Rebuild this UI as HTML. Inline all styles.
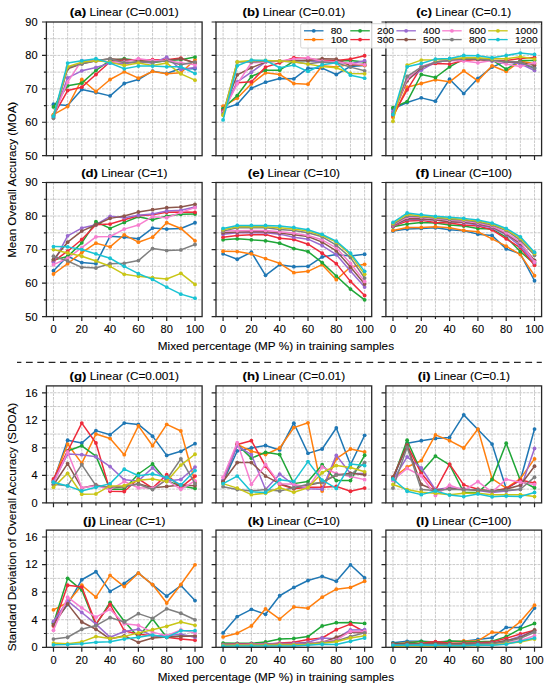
<!DOCTYPE html><html><head><meta charset="utf-8"><style>html,body{margin:0;padding:0;background:#fff;width:550px;height:688px;overflow:hidden}text{stroke:#000;stroke-width:0.1px}</style></head><body><svg width="550" height="688" viewBox="0 0 550 688" style="display:block;font-family:'Liberation Sans', sans-serif">
<rect width="550" height="688" fill="#fff"/>
<path d="M53.48 22.00V155.70M67.63 22.00V155.70M81.79 22.00V155.70M95.94 22.00V155.70M110.10 22.00V155.70M124.25 22.00V155.70M138.40 22.00V155.70M152.56 22.00V155.70M166.71 22.00V155.70M180.87 22.00V155.70M195.02 22.00V155.70M46.40 138.99H202.10M46.40 122.27H202.10M46.40 105.56H202.10M46.40 88.85H202.10M46.40 72.14H202.10M46.40 55.42H202.10M46.40 38.71H202.10" stroke="#bdbdbd" stroke-opacity="1" stroke-width="0.8" stroke-dasharray="2.7 1.0" fill="none"/>
<path d="M53.48 104.23 L67.63 105.56 L81.79 89.52 L95.94 92.53 L110.10 95.87 L124.25 83.50 L138.40 79.49 L152.56 71.13 L166.71 73.47 L180.87 68.46 L195.02 68.79" stroke="#1f77b4" stroke-width="1.5" fill="none" stroke-linejoin="round"/>
<g fill="#1f77b4"><circle cx="53.48" cy="104.23" r="1.9"/><circle cx="67.63" cy="105.56" r="1.9"/><circle cx="81.79" cy="89.52" r="1.9"/><circle cx="95.94" cy="92.53" r="1.9"/><circle cx="110.10" cy="95.87" r="1.9"/><circle cx="124.25" cy="83.50" r="1.9"/><circle cx="138.40" cy="79.49" r="1.9"/><circle cx="152.56" cy="71.13" r="1.9"/><circle cx="166.71" cy="73.47" r="1.9"/><circle cx="180.87" cy="68.46" r="1.9"/><circle cx="195.02" cy="68.79" r="1.9"/></g>
<path d="M53.48 114.59 L67.63 106.57 L81.79 79.49 L95.94 91.52 L110.10 79.49 L124.25 71.80 L138.40 78.15 L152.56 71.47 L166.71 73.81 L180.87 72.81 L195.02 59.77" stroke="#ff7f0e" stroke-width="1.5" fill="none" stroke-linejoin="round"/>
<g fill="#ff7f0e"><circle cx="53.48" cy="114.59" r="1.9"/><circle cx="67.63" cy="106.57" r="1.9"/><circle cx="81.79" cy="79.49" r="1.9"/><circle cx="95.94" cy="91.52" r="1.9"/><circle cx="110.10" cy="79.49" r="1.9"/><circle cx="124.25" cy="71.80" r="1.9"/><circle cx="138.40" cy="78.15" r="1.9"/><circle cx="152.56" cy="71.47" r="1.9"/><circle cx="166.71" cy="73.81" r="1.9"/><circle cx="180.87" cy="72.81" r="1.9"/><circle cx="195.02" cy="59.77" r="1.9"/></g>
<path d="M53.48 106.90 L67.63 85.84 L81.79 83.17 L95.94 70.47 L110.10 60.44 L124.25 58.77 L138.40 60.44 L152.56 62.78 L166.71 60.44 L180.87 59.77 L195.02 57.10" stroke="#1fa637" stroke-width="1.5" fill="none" stroke-linejoin="round"/>
<g fill="#1fa637"><circle cx="53.48" cy="106.90" r="1.9"/><circle cx="67.63" cy="85.84" r="1.9"/><circle cx="81.79" cy="83.17" r="1.9"/><circle cx="95.94" cy="70.47" r="1.9"/><circle cx="110.10" cy="60.44" r="1.9"/><circle cx="124.25" cy="58.77" r="1.9"/><circle cx="138.40" cy="60.44" r="1.9"/><circle cx="152.56" cy="62.78" r="1.9"/><circle cx="166.71" cy="60.44" r="1.9"/><circle cx="180.87" cy="59.77" r="1.9"/><circle cx="195.02" cy="57.10" r="1.9"/></g>
<path d="M53.48 115.59 L67.63 90.52 L81.79 87.18 L95.94 74.48 L110.10 61.78 L124.25 59.77 L138.40 59.77 L152.56 59.77 L166.71 59.77 L180.87 58.10 L195.02 63.11" stroke="#ee2a3a" stroke-width="1.5" fill="none" stroke-linejoin="round"/>
<g fill="#ee2a3a"><circle cx="53.48" cy="115.59" r="1.9"/><circle cx="67.63" cy="90.52" r="1.9"/><circle cx="81.79" cy="87.18" r="1.9"/><circle cx="95.94" cy="74.48" r="1.9"/><circle cx="110.10" cy="61.78" r="1.9"/><circle cx="124.25" cy="59.77" r="1.9"/><circle cx="138.40" cy="59.77" r="1.9"/><circle cx="152.56" cy="59.77" r="1.9"/><circle cx="166.71" cy="59.77" r="1.9"/><circle cx="180.87" cy="58.10" r="1.9"/><circle cx="195.02" cy="63.11" r="1.9"/></g>
<path d="M53.48 117.26 L67.63 77.82 L81.79 70.80 L95.94 67.46 L110.10 63.11 L124.25 63.78 L138.40 61.78 L152.56 63.11 L166.71 57.10 L180.87 69.46 L195.02 67.46" stroke="#9a6ad0" stroke-width="1.5" fill="none" stroke-linejoin="round"/>
<g fill="#9a6ad0"><circle cx="53.48" cy="117.26" r="1.9"/><circle cx="67.63" cy="77.82" r="1.9"/><circle cx="81.79" cy="70.80" r="1.9"/><circle cx="95.94" cy="67.46" r="1.9"/><circle cx="110.10" cy="63.11" r="1.9"/><circle cx="124.25" cy="63.78" r="1.9"/><circle cx="138.40" cy="61.78" r="1.9"/><circle cx="152.56" cy="63.11" r="1.9"/><circle cx="166.71" cy="57.10" r="1.9"/><circle cx="180.87" cy="69.46" r="1.9"/><circle cx="195.02" cy="67.46" r="1.9"/></g>
<path d="M53.48 115.59 L67.63 68.79 L81.79 63.78 L95.94 60.77 L110.10 58.77 L124.25 59.77 L138.40 61.11 L152.56 61.11 L166.71 60.44 L180.87 58.77 L195.02 62.78" stroke="#8c564b" stroke-width="1.5" fill="none" stroke-linejoin="round"/>
<g fill="#8c564b"><circle cx="53.48" cy="115.59" r="1.9"/><circle cx="67.63" cy="68.79" r="1.9"/><circle cx="81.79" cy="63.78" r="1.9"/><circle cx="95.94" cy="60.77" r="1.9"/><circle cx="110.10" cy="58.77" r="1.9"/><circle cx="124.25" cy="59.77" r="1.9"/><circle cx="138.40" cy="61.11" r="1.9"/><circle cx="152.56" cy="61.11" r="1.9"/><circle cx="166.71" cy="60.44" r="1.9"/><circle cx="180.87" cy="58.77" r="1.9"/><circle cx="195.02" cy="62.78" r="1.9"/></g>
<path d="M53.48 115.59 L67.63 82.16 L81.79 60.44 L95.94 60.44 L110.10 61.78 L124.25 62.11 L138.40 58.77 L152.56 60.44 L166.71 60.44 L180.87 62.78 L195.02 64.78" stroke="#f77fcf" stroke-width="1.5" fill="none" stroke-linejoin="round"/>
<g fill="#f77fcf"><circle cx="53.48" cy="115.59" r="1.9"/><circle cx="67.63" cy="82.16" r="1.9"/><circle cx="81.79" cy="60.44" r="1.9"/><circle cx="95.94" cy="60.44" r="1.9"/><circle cx="110.10" cy="61.78" r="1.9"/><circle cx="124.25" cy="62.11" r="1.9"/><circle cx="138.40" cy="58.77" r="1.9"/><circle cx="152.56" cy="60.44" r="1.9"/><circle cx="166.71" cy="60.44" r="1.9"/><circle cx="180.87" cy="62.78" r="1.9"/><circle cx="195.02" cy="64.78" r="1.9"/></g>
<path d="M53.48 118.26 L67.63 67.46 L81.79 63.78 L95.94 60.77 L110.10 58.77 L124.25 62.78 L138.40 62.11 L152.56 62.11 L166.71 61.11 L180.87 64.78 L195.02 62.11" stroke="#7f7f7f" stroke-width="1.5" fill="none" stroke-linejoin="round"/>
<g fill="#7f7f7f"><circle cx="53.48" cy="118.26" r="1.9"/><circle cx="67.63" cy="67.46" r="1.9"/><circle cx="81.79" cy="63.78" r="1.9"/><circle cx="95.94" cy="60.77" r="1.9"/><circle cx="110.10" cy="58.77" r="1.9"/><circle cx="124.25" cy="62.78" r="1.9"/><circle cx="138.40" cy="62.11" r="1.9"/><circle cx="152.56" cy="62.11" r="1.9"/><circle cx="166.71" cy="61.11" r="1.9"/><circle cx="180.87" cy="64.78" r="1.9"/><circle cx="195.02" cy="62.11" r="1.9"/></g>
<path d="M53.48 115.59 L67.63 66.79 L81.79 62.11 L95.94 60.77 L110.10 62.11 L124.25 65.45 L138.40 63.11 L152.56 65.45 L166.71 63.11 L180.87 73.81 L195.02 80.16" stroke="#c9c617" stroke-width="1.5" fill="none" stroke-linejoin="round"/>
<g fill="#c9c617"><circle cx="53.48" cy="115.59" r="1.9"/><circle cx="67.63" cy="66.79" r="1.9"/><circle cx="81.79" cy="62.11" r="1.9"/><circle cx="95.94" cy="60.77" r="1.9"/><circle cx="110.10" cy="62.11" r="1.9"/><circle cx="124.25" cy="65.45" r="1.9"/><circle cx="138.40" cy="63.11" r="1.9"/><circle cx="152.56" cy="65.45" r="1.9"/><circle cx="166.71" cy="63.11" r="1.9"/><circle cx="180.87" cy="73.81" r="1.9"/><circle cx="195.02" cy="80.16" r="1.9"/></g>
<path d="M53.48 116.26 L67.63 63.11 L81.79 60.77 L95.94 58.77 L110.10 63.11 L124.25 68.79 L138.40 66.12 L152.56 66.12 L166.71 66.79 L180.87 66.79 L195.02 73.47" stroke="#19c3d3" stroke-width="1.5" fill="none" stroke-linejoin="round"/>
<g fill="#19c3d3"><circle cx="53.48" cy="116.26" r="1.9"/><circle cx="67.63" cy="63.11" r="1.9"/><circle cx="81.79" cy="60.77" r="1.9"/><circle cx="95.94" cy="58.77" r="1.9"/><circle cx="110.10" cy="63.11" r="1.9"/><circle cx="124.25" cy="68.79" r="1.9"/><circle cx="138.40" cy="66.12" r="1.9"/><circle cx="152.56" cy="66.12" r="1.9"/><circle cx="166.71" cy="66.79" r="1.9"/><circle cx="180.87" cy="66.79" r="1.9"/><circle cx="195.02" cy="73.47" r="1.9"/></g>
<rect x="46.40" y="22.00" width="155.70" height="133.70" fill="none" stroke="#262626" stroke-width="1.3"/>
<path d="M223.08 22.00V155.70M237.23 22.00V155.70M251.39 22.00V155.70M265.54 22.00V155.70M279.70 22.00V155.70M293.85 22.00V155.70M308.00 22.00V155.70M322.16 22.00V155.70M336.31 22.00V155.70M350.47 22.00V155.70M364.62 22.00V155.70M216.00 138.99H371.70M216.00 122.27H371.70M216.00 105.56H371.70M216.00 88.85H371.70M216.00 72.14H371.70M216.00 55.42H371.70M216.00 38.71H371.70" stroke="#bdbdbd" stroke-opacity="1" stroke-width="0.8" stroke-dasharray="2.7 1.0" fill="none"/>
<path d="M223.08 108.91 L237.23 104.23 L251.39 88.18 L265.54 82.16 L279.70 78.49 L293.85 78.82 L308.00 68.13 L322.16 68.13 L336.31 74.48 L350.47 66.46 L364.62 65.45" stroke="#1f77b4" stroke-width="1.5" fill="none" stroke-linejoin="round"/>
<g fill="#1f77b4"><circle cx="223.08" cy="108.91" r="1.9"/><circle cx="237.23" cy="104.23" r="1.9"/><circle cx="251.39" cy="88.18" r="1.9"/><circle cx="265.54" cy="82.16" r="1.9"/><circle cx="279.70" cy="78.49" r="1.9"/><circle cx="293.85" cy="78.82" r="1.9"/><circle cx="308.00" cy="68.13" r="1.9"/><circle cx="322.16" cy="68.13" r="1.9"/><circle cx="336.31" cy="74.48" r="1.9"/><circle cx="350.47" cy="66.46" r="1.9"/><circle cx="364.62" cy="65.45" r="1.9"/></g>
<path d="M223.08 106.23 L237.23 98.21 L251.39 83.84 L265.54 72.81 L279.70 74.48 L293.85 83.50 L308.00 84.17 L322.16 65.79 L336.31 67.12 L350.47 64.12 L364.62 65.45" stroke="#ff7f0e" stroke-width="1.5" fill="none" stroke-linejoin="round"/>
<g fill="#ff7f0e"><circle cx="223.08" cy="106.23" r="1.9"/><circle cx="237.23" cy="98.21" r="1.9"/><circle cx="251.39" cy="83.84" r="1.9"/><circle cx="265.54" cy="72.81" r="1.9"/><circle cx="279.70" cy="74.48" r="1.9"/><circle cx="293.85" cy="83.50" r="1.9"/><circle cx="308.00" cy="84.17" r="1.9"/><circle cx="322.16" cy="65.79" r="1.9"/><circle cx="336.31" cy="67.12" r="1.9"/><circle cx="350.47" cy="64.12" r="1.9"/><circle cx="364.62" cy="65.45" r="1.9"/></g>
<path d="M223.08 108.57 L237.23 95.53 L251.39 76.48 L265.54 70.13 L279.70 70.13 L293.85 61.11 L308.00 60.44 L322.16 62.11 L336.31 61.11 L350.47 60.44 L364.62 62.11" stroke="#1fa637" stroke-width="1.5" fill="none" stroke-linejoin="round"/>
<g fill="#1fa637"><circle cx="223.08" cy="108.57" r="1.9"/><circle cx="237.23" cy="95.53" r="1.9"/><circle cx="251.39" cy="76.48" r="1.9"/><circle cx="265.54" cy="70.13" r="1.9"/><circle cx="279.70" cy="70.13" r="1.9"/><circle cx="293.85" cy="61.11" r="1.9"/><circle cx="308.00" cy="60.44" r="1.9"/><circle cx="322.16" cy="62.11" r="1.9"/><circle cx="336.31" cy="61.11" r="1.9"/><circle cx="350.47" cy="60.44" r="1.9"/><circle cx="364.62" cy="62.11" r="1.9"/></g>
<path d="M223.08 110.58 L237.23 82.83 L251.39 81.83 L265.54 67.12 L279.70 62.78 L293.85 57.76 L308.00 58.43 L322.16 60.44 L336.31 60.44 L350.47 59.10 L364.62 55.76" stroke="#ee2a3a" stroke-width="1.5" fill="none" stroke-linejoin="round"/>
<g fill="#ee2a3a"><circle cx="223.08" cy="110.58" r="1.9"/><circle cx="237.23" cy="82.83" r="1.9"/><circle cx="251.39" cy="81.83" r="1.9"/><circle cx="265.54" cy="67.12" r="1.9"/><circle cx="279.70" cy="62.78" r="1.9"/><circle cx="293.85" cy="57.76" r="1.9"/><circle cx="308.00" cy="58.43" r="1.9"/><circle cx="322.16" cy="60.44" r="1.9"/><circle cx="336.31" cy="60.44" r="1.9"/><circle cx="350.47" cy="59.10" r="1.9"/><circle cx="364.62" cy="55.76" r="1.9"/></g>
<path d="M223.08 111.58 L237.23 81.83 L251.39 72.14 L265.54 62.11 L279.70 61.11 L293.85 60.44 L308.00 60.44 L322.16 62.11 L336.31 62.11 L350.47 63.78 L364.62 60.77" stroke="#9a6ad0" stroke-width="1.5" fill="none" stroke-linejoin="round"/>
<g fill="#9a6ad0"><circle cx="223.08" cy="111.58" r="1.9"/><circle cx="237.23" cy="81.83" r="1.9"/><circle cx="251.39" cy="72.14" r="1.9"/><circle cx="265.54" cy="62.11" r="1.9"/><circle cx="279.70" cy="61.11" r="1.9"/><circle cx="293.85" cy="60.44" r="1.9"/><circle cx="308.00" cy="60.44" r="1.9"/><circle cx="322.16" cy="62.11" r="1.9"/><circle cx="336.31" cy="62.11" r="1.9"/><circle cx="350.47" cy="63.78" r="1.9"/><circle cx="364.62" cy="60.77" r="1.9"/></g>
<path d="M223.08 111.58 L237.23 74.81 L251.39 67.79 L265.54 62.11 L279.70 61.11 L293.85 60.44 L308.00 60.44 L322.16 58.77 L336.31 59.10 L350.47 65.45 L364.62 64.12" stroke="#8c564b" stroke-width="1.5" fill="none" stroke-linejoin="round"/>
<g fill="#8c564b"><circle cx="223.08" cy="111.58" r="1.9"/><circle cx="237.23" cy="74.81" r="1.9"/><circle cx="251.39" cy="67.79" r="1.9"/><circle cx="265.54" cy="62.11" r="1.9"/><circle cx="279.70" cy="61.11" r="1.9"/><circle cx="293.85" cy="60.44" r="1.9"/><circle cx="308.00" cy="60.44" r="1.9"/><circle cx="322.16" cy="58.77" r="1.9"/><circle cx="336.31" cy="59.10" r="1.9"/><circle cx="350.47" cy="65.45" r="1.9"/><circle cx="364.62" cy="64.12" r="1.9"/></g>
<path d="M223.08 112.25 L237.23 83.84 L251.39 62.78 L265.54 62.11 L279.70 61.11 L293.85 59.10 L308.00 57.76 L322.16 61.11 L336.31 62.11 L350.47 63.45 L364.62 64.78" stroke="#f77fcf" stroke-width="1.5" fill="none" stroke-linejoin="round"/>
<g fill="#f77fcf"><circle cx="223.08" cy="112.25" r="1.9"/><circle cx="237.23" cy="83.84" r="1.9"/><circle cx="251.39" cy="62.78" r="1.9"/><circle cx="265.54" cy="62.11" r="1.9"/><circle cx="279.70" cy="61.11" r="1.9"/><circle cx="293.85" cy="59.10" r="1.9"/><circle cx="308.00" cy="57.76" r="1.9"/><circle cx="322.16" cy="61.11" r="1.9"/><circle cx="336.31" cy="62.11" r="1.9"/><circle cx="350.47" cy="63.45" r="1.9"/><circle cx="364.62" cy="64.78" r="1.9"/></g>
<path d="M223.08 113.92 L237.23 62.11 L251.39 62.11 L265.54 61.11 L279.70 61.11 L293.85 62.11 L308.00 63.78 L322.16 62.11 L336.31 62.78 L350.47 67.12 L364.62 70.80" stroke="#7f7f7f" stroke-width="1.5" fill="none" stroke-linejoin="round"/>
<g fill="#7f7f7f"><circle cx="223.08" cy="113.92" r="1.9"/><circle cx="237.23" cy="62.11" r="1.9"/><circle cx="251.39" cy="62.11" r="1.9"/><circle cx="265.54" cy="61.11" r="1.9"/><circle cx="279.70" cy="61.11" r="1.9"/><circle cx="293.85" cy="62.11" r="1.9"/><circle cx="308.00" cy="63.78" r="1.9"/><circle cx="322.16" cy="62.11" r="1.9"/><circle cx="336.31" cy="62.78" r="1.9"/><circle cx="350.47" cy="67.12" r="1.9"/><circle cx="364.62" cy="70.80" r="1.9"/></g>
<path d="M223.08 115.26 L237.23 61.78 L251.39 60.44 L265.54 60.44 L279.70 61.11 L293.85 61.78 L308.00 64.12 L322.16 66.46 L336.31 67.79 L350.47 73.47 L364.62 73.81" stroke="#c9c617" stroke-width="1.5" fill="none" stroke-linejoin="round"/>
<g fill="#c9c617"><circle cx="223.08" cy="115.26" r="1.9"/><circle cx="237.23" cy="61.78" r="1.9"/><circle cx="251.39" cy="60.44" r="1.9"/><circle cx="265.54" cy="60.44" r="1.9"/><circle cx="279.70" cy="61.11" r="1.9"/><circle cx="293.85" cy="61.78" r="1.9"/><circle cx="308.00" cy="64.12" r="1.9"/><circle cx="322.16" cy="66.46" r="1.9"/><circle cx="336.31" cy="67.79" r="1.9"/><circle cx="350.47" cy="73.47" r="1.9"/><circle cx="364.62" cy="73.81" r="1.9"/></g>
<path d="M223.08 119.94 L237.23 65.79 L251.39 60.10 L265.54 60.44 L279.70 67.79 L293.85 65.12 L308.00 71.47 L322.16 64.78 L336.31 62.78 L350.47 75.15 L364.62 78.15" stroke="#19c3d3" stroke-width="1.5" fill="none" stroke-linejoin="round"/>
<g fill="#19c3d3"><circle cx="223.08" cy="119.94" r="1.9"/><circle cx="237.23" cy="65.79" r="1.9"/><circle cx="251.39" cy="60.10" r="1.9"/><circle cx="265.54" cy="60.44" r="1.9"/><circle cx="279.70" cy="67.79" r="1.9"/><circle cx="293.85" cy="65.12" r="1.9"/><circle cx="308.00" cy="71.47" r="1.9"/><circle cx="322.16" cy="64.78" r="1.9"/><circle cx="336.31" cy="62.78" r="1.9"/><circle cx="350.47" cy="75.15" r="1.9"/><circle cx="364.62" cy="78.15" r="1.9"/></g>
<rect x="216.00" y="22.00" width="155.70" height="133.70" fill="none" stroke="#262626" stroke-width="1.3"/>
<path d="M392.98 22.00V155.70M407.13 22.00V155.70M421.29 22.00V155.70M435.44 22.00V155.70M449.60 22.00V155.70M463.75 22.00V155.70M477.90 22.00V155.70M492.06 22.00V155.70M506.21 22.00V155.70M520.37 22.00V155.70M534.52 22.00V155.70M385.90 138.99H541.60M385.90 122.27H541.60M385.90 105.56H541.60M385.90 88.85H541.60M385.90 72.14H541.60M385.90 55.42H541.60M385.90 38.71H541.60" stroke="#bdbdbd" stroke-opacity="1" stroke-width="0.8" stroke-dasharray="2.7 1.0" fill="none"/>
<path d="M392.98 108.91 L407.13 102.55 L421.29 97.87 L435.44 101.22 L449.60 79.16 L463.75 93.53 L477.90 78.49 L492.06 67.12 L506.21 61.11 L520.37 63.78 L534.52 67.79" stroke="#1f77b4" stroke-width="1.5" fill="none" stroke-linejoin="round"/>
<g fill="#1f77b4"><circle cx="392.98" cy="108.91" r="1.9"/><circle cx="407.13" cy="102.55" r="1.9"/><circle cx="421.29" cy="97.87" r="1.9"/><circle cx="435.44" cy="101.22" r="1.9"/><circle cx="449.60" cy="79.16" r="1.9"/><circle cx="463.75" cy="93.53" r="1.9"/><circle cx="477.90" cy="78.49" r="1.9"/><circle cx="492.06" cy="67.12" r="1.9"/><circle cx="506.21" cy="61.11" r="1.9"/><circle cx="520.37" cy="63.78" r="1.9"/><circle cx="534.52" cy="67.79" r="1.9"/></g>
<path d="M392.98 117.26 L407.13 87.18 L421.29 83.50 L435.44 79.83 L449.60 81.83 L463.75 70.80 L477.90 80.83 L492.06 65.79 L506.21 71.47 L520.37 61.11 L534.52 63.78" stroke="#ff7f0e" stroke-width="1.5" fill="none" stroke-linejoin="round"/>
<g fill="#ff7f0e"><circle cx="392.98" cy="117.26" r="1.9"/><circle cx="407.13" cy="87.18" r="1.9"/><circle cx="421.29" cy="83.50" r="1.9"/><circle cx="435.44" cy="79.83" r="1.9"/><circle cx="449.60" cy="81.83" r="1.9"/><circle cx="463.75" cy="70.80" r="1.9"/><circle cx="477.90" cy="80.83" r="1.9"/><circle cx="492.06" cy="65.79" r="1.9"/><circle cx="506.21" cy="71.47" r="1.9"/><circle cx="520.37" cy="61.11" r="1.9"/><circle cx="534.52" cy="63.78" r="1.9"/></g>
<path d="M392.98 107.57 L407.13 101.55 L421.29 74.48 L435.44 77.49 L449.60 66.79 L463.75 58.77 L477.90 58.77 L492.06 59.77 L506.21 69.13 L520.37 60.44 L534.52 60.44" stroke="#1fa637" stroke-width="1.5" fill="none" stroke-linejoin="round"/>
<g fill="#1fa637"><circle cx="392.98" cy="107.57" r="1.9"/><circle cx="407.13" cy="101.55" r="1.9"/><circle cx="421.29" cy="74.48" r="1.9"/><circle cx="435.44" cy="77.49" r="1.9"/><circle cx="449.60" cy="66.79" r="1.9"/><circle cx="463.75" cy="58.77" r="1.9"/><circle cx="477.90" cy="58.77" r="1.9"/><circle cx="492.06" cy="59.77" r="1.9"/><circle cx="506.21" cy="69.13" r="1.9"/><circle cx="520.37" cy="60.44" r="1.9"/><circle cx="534.52" cy="60.44" r="1.9"/></g>
<path d="M392.98 115.59 L407.13 89.85 L421.29 67.12 L435.44 63.45 L449.60 64.12 L463.75 60.44 L477.90 59.44 L492.06 60.44 L506.21 60.44 L520.37 58.43 L534.52 57.43" stroke="#ee2a3a" stroke-width="1.5" fill="none" stroke-linejoin="round"/>
<g fill="#ee2a3a"><circle cx="392.98" cy="115.59" r="1.9"/><circle cx="407.13" cy="89.85" r="1.9"/><circle cx="421.29" cy="67.12" r="1.9"/><circle cx="435.44" cy="63.45" r="1.9"/><circle cx="449.60" cy="64.12" r="1.9"/><circle cx="463.75" cy="60.44" r="1.9"/><circle cx="477.90" cy="59.44" r="1.9"/><circle cx="492.06" cy="60.44" r="1.9"/><circle cx="506.21" cy="60.44" r="1.9"/><circle cx="520.37" cy="58.43" r="1.9"/><circle cx="534.52" cy="57.43" r="1.9"/></g>
<path d="M392.98 111.58 L407.13 79.49 L421.29 70.13 L435.44 62.11 L449.60 60.44 L463.75 58.77 L477.90 58.77 L492.06 61.11 L506.21 62.11 L520.37 63.78 L534.52 70.47" stroke="#9a6ad0" stroke-width="1.5" fill="none" stroke-linejoin="round"/>
<g fill="#9a6ad0"><circle cx="392.98" cy="111.58" r="1.9"/><circle cx="407.13" cy="79.49" r="1.9"/><circle cx="421.29" cy="70.13" r="1.9"/><circle cx="435.44" cy="62.11" r="1.9"/><circle cx="449.60" cy="60.44" r="1.9"/><circle cx="463.75" cy="58.77" r="1.9"/><circle cx="477.90" cy="58.77" r="1.9"/><circle cx="492.06" cy="61.11" r="1.9"/><circle cx="506.21" cy="62.11" r="1.9"/><circle cx="520.37" cy="63.78" r="1.9"/><circle cx="534.52" cy="70.47" r="1.9"/></g>
<path d="M392.98 113.92 L407.13 80.83 L421.29 67.79 L435.44 62.11 L449.60 60.44 L463.75 58.77 L477.90 59.44 L492.06 60.44 L506.21 62.11 L520.37 62.11 L534.52 65.45" stroke="#8c564b" stroke-width="1.5" fill="none" stroke-linejoin="round"/>
<g fill="#8c564b"><circle cx="392.98" cy="113.92" r="1.9"/><circle cx="407.13" cy="80.83" r="1.9"/><circle cx="421.29" cy="67.79" r="1.9"/><circle cx="435.44" cy="62.11" r="1.9"/><circle cx="449.60" cy="60.44" r="1.9"/><circle cx="463.75" cy="58.77" r="1.9"/><circle cx="477.90" cy="59.44" r="1.9"/><circle cx="492.06" cy="60.44" r="1.9"/><circle cx="506.21" cy="62.11" r="1.9"/><circle cx="520.37" cy="62.11" r="1.9"/><circle cx="534.52" cy="65.45" r="1.9"/></g>
<path d="M392.98 113.92 L407.13 78.82 L421.29 66.46 L435.44 62.11 L449.60 60.44 L463.75 61.11 L477.90 62.78 L492.06 60.44 L506.21 64.12 L520.37 66.46 L534.52 62.78" stroke="#f77fcf" stroke-width="1.5" fill="none" stroke-linejoin="round"/>
<g fill="#f77fcf"><circle cx="392.98" cy="113.92" r="1.9"/><circle cx="407.13" cy="78.82" r="1.9"/><circle cx="421.29" cy="66.46" r="1.9"/><circle cx="435.44" cy="62.11" r="1.9"/><circle cx="449.60" cy="60.44" r="1.9"/><circle cx="463.75" cy="61.11" r="1.9"/><circle cx="477.90" cy="62.78" r="1.9"/><circle cx="492.06" cy="60.44" r="1.9"/><circle cx="506.21" cy="64.12" r="1.9"/><circle cx="520.37" cy="66.46" r="1.9"/><circle cx="534.52" cy="62.78" r="1.9"/></g>
<path d="M392.98 113.92 L407.13 76.48 L421.29 67.12 L435.44 62.11 L449.60 60.44 L463.75 58.77 L477.90 58.77 L492.06 60.44 L506.21 61.44 L520.37 62.11 L534.52 68.46" stroke="#7f7f7f" stroke-width="1.5" fill="none" stroke-linejoin="round"/>
<g fill="#7f7f7f"><circle cx="392.98" cy="113.92" r="1.9"/><circle cx="407.13" cy="76.48" r="1.9"/><circle cx="421.29" cy="67.12" r="1.9"/><circle cx="435.44" cy="62.11" r="1.9"/><circle cx="449.60" cy="60.44" r="1.9"/><circle cx="463.75" cy="58.77" r="1.9"/><circle cx="477.90" cy="58.77" r="1.9"/><circle cx="492.06" cy="60.44" r="1.9"/><circle cx="506.21" cy="61.44" r="1.9"/><circle cx="520.37" cy="62.11" r="1.9"/><circle cx="534.52" cy="68.46" r="1.9"/></g>
<path d="M392.98 121.27 L407.13 65.12 L421.29 60.10 L435.44 59.77 L449.60 59.10 L463.75 57.76 L477.90 57.76 L492.06 58.77 L506.21 58.77 L520.37 56.76 L534.52 59.10" stroke="#c9c617" stroke-width="1.5" fill="none" stroke-linejoin="round"/>
<g fill="#c9c617"><circle cx="392.98" cy="121.27" r="1.9"/><circle cx="407.13" cy="65.12" r="1.9"/><circle cx="421.29" cy="60.10" r="1.9"/><circle cx="435.44" cy="59.77" r="1.9"/><circle cx="449.60" cy="59.10" r="1.9"/><circle cx="463.75" cy="57.76" r="1.9"/><circle cx="477.90" cy="57.76" r="1.9"/><circle cx="492.06" cy="58.77" r="1.9"/><circle cx="506.21" cy="58.77" r="1.9"/><circle cx="520.37" cy="56.76" r="1.9"/><circle cx="534.52" cy="59.10" r="1.9"/></g>
<path d="M392.98 114.59 L407.13 66.79 L421.29 63.45 L435.44 59.10 L449.60 58.43 L463.75 55.42 L477.90 55.76 L492.06 57.76 L506.21 55.42 L520.37 53.09 L534.52 54.42" stroke="#19c3d3" stroke-width="1.5" fill="none" stroke-linejoin="round"/>
<g fill="#19c3d3"><circle cx="392.98" cy="114.59" r="1.9"/><circle cx="407.13" cy="66.79" r="1.9"/><circle cx="421.29" cy="63.45" r="1.9"/><circle cx="435.44" cy="59.10" r="1.9"/><circle cx="449.60" cy="58.43" r="1.9"/><circle cx="463.75" cy="55.42" r="1.9"/><circle cx="477.90" cy="55.76" r="1.9"/><circle cx="492.06" cy="57.76" r="1.9"/><circle cx="506.21" cy="55.42" r="1.9"/><circle cx="520.37" cy="53.09" r="1.9"/><circle cx="534.52" cy="54.42" r="1.9"/></g>
<rect x="385.90" y="22.00" width="155.70" height="133.70" fill="none" stroke="#262626" stroke-width="1.3"/>
<path d="M53.48 182.50V316.60M67.63 182.50V316.60M81.79 182.50V316.60M95.94 182.50V316.60M110.10 182.50V316.60M124.25 182.50V316.60M138.40 182.50V316.60M152.56 182.50V316.60M166.71 182.50V316.60M180.87 182.50V316.60M195.02 182.50V316.60M46.40 299.84H202.10M46.40 283.08H202.10M46.40 266.31H202.10M46.40 249.55H202.10M46.40 232.79H202.10M46.40 216.03H202.10M46.40 199.26H202.10" stroke="#bdbdbd" stroke-opacity="1" stroke-width="0.8" stroke-dasharray="2.7 1.0" fill="none"/>
<path d="M53.48 270.67 L67.63 256.25 L81.79 262.62 L95.94 263.63 L110.10 236.14 L124.25 237.15 L138.40 238.82 L152.56 228.09 L166.71 229.10 L180.87 228.43 L195.02 222.73" stroke="#1f77b4" stroke-width="1.5" fill="none" stroke-linejoin="round"/>
<g fill="#1f77b4"><circle cx="53.48" cy="270.67" r="1.9"/><circle cx="67.63" cy="256.25" r="1.9"/><circle cx="81.79" cy="262.62" r="1.9"/><circle cx="95.94" cy="263.63" r="1.9"/><circle cx="110.10" cy="236.14" r="1.9"/><circle cx="124.25" cy="237.15" r="1.9"/><circle cx="138.40" cy="238.82" r="1.9"/><circle cx="152.56" cy="228.09" r="1.9"/><circle cx="166.71" cy="229.10" r="1.9"/><circle cx="180.87" cy="228.43" r="1.9"/><circle cx="195.02" cy="222.73" r="1.9"/></g>
<path d="M53.48 274.02 L67.63 263.63 L81.79 252.57 L95.94 243.18 L110.10 246.87 L124.25 234.80 L138.40 242.17 L152.56 237.15 L166.71 222.73 L180.87 228.43 L195.02 240.83" stroke="#ff7f0e" stroke-width="1.5" fill="none" stroke-linejoin="round"/>
<g fill="#ff7f0e"><circle cx="53.48" cy="274.02" r="1.9"/><circle cx="67.63" cy="263.63" r="1.9"/><circle cx="81.79" cy="252.57" r="1.9"/><circle cx="95.94" cy="243.18" r="1.9"/><circle cx="110.10" cy="246.87" r="1.9"/><circle cx="124.25" cy="234.80" r="1.9"/><circle cx="138.40" cy="242.17" r="1.9"/><circle cx="152.56" cy="237.15" r="1.9"/><circle cx="166.71" cy="222.73" r="1.9"/><circle cx="180.87" cy="228.43" r="1.9"/><circle cx="195.02" cy="240.83" r="1.9"/></g>
<path d="M53.48 259.94 L67.63 256.59 L81.79 242.84 L95.94 221.72 L110.10 228.43 L124.25 222.39 L138.40 216.70 L152.56 219.71 L166.71 216.03 L180.87 214.35 L195.02 214.01" stroke="#1fa637" stroke-width="1.5" fill="none" stroke-linejoin="round"/>
<g fill="#1fa637"><circle cx="53.48" cy="259.94" r="1.9"/><circle cx="67.63" cy="256.59" r="1.9"/><circle cx="81.79" cy="242.84" r="1.9"/><circle cx="95.94" cy="221.72" r="1.9"/><circle cx="110.10" cy="228.43" r="1.9"/><circle cx="124.25" cy="222.39" r="1.9"/><circle cx="138.40" cy="216.70" r="1.9"/><circle cx="152.56" cy="219.71" r="1.9"/><circle cx="166.71" cy="216.03" r="1.9"/><circle cx="180.87" cy="214.35" r="1.9"/><circle cx="195.02" cy="214.01" r="1.9"/></g>
<path d="M53.48 261.28 L67.63 251.23 L81.79 239.49 L95.94 224.74 L110.10 224.07 L124.25 219.71 L138.40 215.69 L152.56 214.68 L166.71 212.34 L180.87 212.00 L195.02 212.34" stroke="#ee2a3a" stroke-width="1.5" fill="none" stroke-linejoin="round"/>
<g fill="#ee2a3a"><circle cx="53.48" cy="261.28" r="1.9"/><circle cx="67.63" cy="251.23" r="1.9"/><circle cx="81.79" cy="239.49" r="1.9"/><circle cx="95.94" cy="224.74" r="1.9"/><circle cx="110.10" cy="224.07" r="1.9"/><circle cx="124.25" cy="219.71" r="1.9"/><circle cx="138.40" cy="215.69" r="1.9"/><circle cx="152.56" cy="214.68" r="1.9"/><circle cx="166.71" cy="212.34" r="1.9"/><circle cx="180.87" cy="212.00" r="1.9"/><circle cx="195.02" cy="212.34" r="1.9"/></g>
<path d="M53.48 262.62 L67.63 235.80 L81.79 228.09 L95.94 224.74 L110.10 216.36 L124.25 217.70 L138.40 215.35 L152.56 214.01 L166.71 211.00 L180.87 210.33 L195.02 206.97" stroke="#9a6ad0" stroke-width="1.5" fill="none" stroke-linejoin="round"/>
<g fill="#9a6ad0"><circle cx="53.48" cy="262.62" r="1.9"/><circle cx="67.63" cy="235.80" r="1.9"/><circle cx="81.79" cy="228.09" r="1.9"/><circle cx="95.94" cy="224.74" r="1.9"/><circle cx="110.10" cy="216.36" r="1.9"/><circle cx="124.25" cy="217.70" r="1.9"/><circle cx="138.40" cy="215.35" r="1.9"/><circle cx="152.56" cy="214.01" r="1.9"/><circle cx="166.71" cy="211.00" r="1.9"/><circle cx="180.87" cy="210.33" r="1.9"/><circle cx="195.02" cy="206.97" r="1.9"/></g>
<path d="M53.48 259.61 L67.63 242.17 L81.79 231.11 L95.94 224.74 L110.10 218.37 L124.25 216.03 L138.40 212.00 L152.56 209.66 L166.71 207.64 L180.87 206.97 L195.02 204.29" stroke="#8c564b" stroke-width="1.5" fill="none" stroke-linejoin="round"/>
<g fill="#8c564b"><circle cx="53.48" cy="259.61" r="1.9"/><circle cx="67.63" cy="242.17" r="1.9"/><circle cx="81.79" cy="231.11" r="1.9"/><circle cx="95.94" cy="224.74" r="1.9"/><circle cx="110.10" cy="218.37" r="1.9"/><circle cx="124.25" cy="216.03" r="1.9"/><circle cx="138.40" cy="212.00" r="1.9"/><circle cx="152.56" cy="209.66" r="1.9"/><circle cx="166.71" cy="207.64" r="1.9"/><circle cx="180.87" cy="206.97" r="1.9"/><circle cx="195.02" cy="204.29" r="1.9"/></g>
<path d="M53.48 264.64 L67.63 258.27 L81.79 247.54 L95.94 236.81 L110.10 236.48 L124.25 229.10 L138.40 225.08 L152.56 216.70 L166.71 217.70 L180.87 212.34 L195.02 207.64" stroke="#f77fcf" stroke-width="1.5" fill="none" stroke-linejoin="round"/>
<g fill="#f77fcf"><circle cx="53.48" cy="264.64" r="1.9"/><circle cx="67.63" cy="258.27" r="1.9"/><circle cx="81.79" cy="247.54" r="1.9"/><circle cx="95.94" cy="236.81" r="1.9"/><circle cx="110.10" cy="236.48" r="1.9"/><circle cx="124.25" cy="229.10" r="1.9"/><circle cx="138.40" cy="225.08" r="1.9"/><circle cx="152.56" cy="216.70" r="1.9"/><circle cx="166.71" cy="217.70" r="1.9"/><circle cx="180.87" cy="212.34" r="1.9"/><circle cx="195.02" cy="207.64" r="1.9"/></g>
<path d="M53.48 256.25 L67.63 260.95 L81.79 267.32 L95.94 267.99 L110.10 263.63 L124.25 263.30 L138.40 260.61 L152.56 248.54 L166.71 250.56 L180.87 249.89 L195.02 244.52" stroke="#7f7f7f" stroke-width="1.5" fill="none" stroke-linejoin="round"/>
<g fill="#7f7f7f"><circle cx="53.48" cy="256.25" r="1.9"/><circle cx="67.63" cy="260.95" r="1.9"/><circle cx="81.79" cy="267.32" r="1.9"/><circle cx="95.94" cy="267.99" r="1.9"/><circle cx="110.10" cy="263.63" r="1.9"/><circle cx="124.25" cy="263.30" r="1.9"/><circle cx="138.40" cy="260.61" r="1.9"/><circle cx="152.56" cy="248.54" r="1.9"/><circle cx="166.71" cy="250.56" r="1.9"/><circle cx="180.87" cy="249.89" r="1.9"/><circle cx="195.02" cy="244.52" r="1.9"/></g>
<path d="M53.48 249.55 L67.63 252.90 L81.79 256.25 L95.94 260.95 L110.10 266.31 L124.25 274.36 L138.40 276.37 L152.56 277.71 L166.71 279.05 L180.87 273.35 L195.02 284.42" stroke="#c9c617" stroke-width="1.5" fill="none" stroke-linejoin="round"/>
<g fill="#c9c617"><circle cx="53.48" cy="249.55" r="1.9"/><circle cx="67.63" cy="252.90" r="1.9"/><circle cx="81.79" cy="256.25" r="1.9"/><circle cx="95.94" cy="260.95" r="1.9"/><circle cx="110.10" cy="266.31" r="1.9"/><circle cx="124.25" cy="274.36" r="1.9"/><circle cx="138.40" cy="276.37" r="1.9"/><circle cx="152.56" cy="277.71" r="1.9"/><circle cx="166.71" cy="279.05" r="1.9"/><circle cx="180.87" cy="273.35" r="1.9"/><circle cx="195.02" cy="284.42" r="1.9"/></g>
<path d="M53.48 246.53 L67.63 246.87 L81.79 249.55 L95.94 253.91 L110.10 258.27 L124.25 266.31 L138.40 273.69 L152.56 279.39 L166.71 287.10 L180.87 294.14 L195.02 298.16" stroke="#19c3d3" stroke-width="1.5" fill="none" stroke-linejoin="round"/>
<g fill="#19c3d3"><circle cx="53.48" cy="246.53" r="1.9"/><circle cx="67.63" cy="246.87" r="1.9"/><circle cx="81.79" cy="249.55" r="1.9"/><circle cx="95.94" cy="253.91" r="1.9"/><circle cx="110.10" cy="258.27" r="1.9"/><circle cx="124.25" cy="266.31" r="1.9"/><circle cx="138.40" cy="273.69" r="1.9"/><circle cx="152.56" cy="279.39" r="1.9"/><circle cx="166.71" cy="287.10" r="1.9"/><circle cx="180.87" cy="294.14" r="1.9"/><circle cx="195.02" cy="298.16" r="1.9"/></g>
<rect x="46.40" y="182.50" width="155.70" height="134.10" fill="none" stroke="#262626" stroke-width="1.3"/>
<path d="M223.08 182.50V316.60M237.23 182.50V316.60M251.39 182.50V316.60M265.54 182.50V316.60M279.70 182.50V316.60M293.85 182.50V316.60M308.00 182.50V316.60M322.16 182.50V316.60M336.31 182.50V316.60M350.47 182.50V316.60M364.62 182.50V316.60M216.00 299.84H371.70M216.00 283.08H371.70M216.00 266.31H371.70M216.00 249.55H371.70M216.00 232.79H371.70M216.00 216.03H371.70M216.00 199.26H371.70" stroke="#bdbdbd" stroke-opacity="1" stroke-width="0.8" stroke-dasharray="2.7 1.0" fill="none"/>
<path d="M223.08 253.91 L237.23 259.27 L251.39 252.23 L265.54 275.36 L279.70 264.64 L293.85 266.65 L308.00 266.31 L322.16 256.93 L336.31 254.58 L350.47 255.92 L364.62 254.24" stroke="#1f77b4" stroke-width="1.5" fill="none" stroke-linejoin="round"/>
<g fill="#1f77b4"><circle cx="223.08" cy="253.91" r="1.9"/><circle cx="237.23" cy="259.27" r="1.9"/><circle cx="251.39" cy="252.23" r="1.9"/><circle cx="265.54" cy="275.36" r="1.9"/><circle cx="279.70" cy="264.64" r="1.9"/><circle cx="293.85" cy="266.65" r="1.9"/><circle cx="308.00" cy="266.31" r="1.9"/><circle cx="322.16" cy="256.93" r="1.9"/><circle cx="336.31" cy="254.58" r="1.9"/><circle cx="350.47" cy="255.92" r="1.9"/><circle cx="364.62" cy="254.24" r="1.9"/></g>
<path d="M223.08 251.23 L237.23 251.56 L251.39 253.91 L265.54 258.60 L279.70 263.30 L293.85 272.68 L308.00 271.34 L322.16 264.64 L336.31 279.72 L350.47 266.98 L364.62 264.30" stroke="#ff7f0e" stroke-width="1.5" fill="none" stroke-linejoin="round"/>
<g fill="#ff7f0e"><circle cx="223.08" cy="251.23" r="1.9"/><circle cx="237.23" cy="251.56" r="1.9"/><circle cx="251.39" cy="253.91" r="1.9"/><circle cx="265.54" cy="258.60" r="1.9"/><circle cx="279.70" cy="263.30" r="1.9"/><circle cx="293.85" cy="272.68" r="1.9"/><circle cx="308.00" cy="271.34" r="1.9"/><circle cx="322.16" cy="264.64" r="1.9"/><circle cx="336.31" cy="279.72" r="1.9"/><circle cx="350.47" cy="266.98" r="1.9"/><circle cx="364.62" cy="264.30" r="1.9"/></g>
<path d="M223.08 239.83 L237.23 238.82 L251.39 239.83 L265.54 240.83 L279.70 243.18 L293.85 248.54 L308.00 251.56 L322.16 262.62 L336.31 276.03 L350.47 289.11 L364.62 299.84" stroke="#1fa637" stroke-width="1.5" fill="none" stroke-linejoin="round"/>
<g fill="#1fa637"><circle cx="223.08" cy="239.83" r="1.9"/><circle cx="237.23" cy="238.82" r="1.9"/><circle cx="251.39" cy="239.83" r="1.9"/><circle cx="265.54" cy="240.83" r="1.9"/><circle cx="279.70" cy="243.18" r="1.9"/><circle cx="293.85" cy="248.54" r="1.9"/><circle cx="308.00" cy="251.56" r="1.9"/><circle cx="322.16" cy="262.62" r="1.9"/><circle cx="336.31" cy="276.03" r="1.9"/><circle cx="350.47" cy="289.11" r="1.9"/><circle cx="364.62" cy="299.84" r="1.9"/></g>
<path d="M223.08 237.15 L237.23 235.47 L251.39 234.80 L265.54 234.46 L279.70 238.15 L293.85 239.49 L308.00 244.19 L322.16 253.24 L336.31 263.63 L350.47 281.40 L364.62 295.48" stroke="#ee2a3a" stroke-width="1.5" fill="none" stroke-linejoin="round"/>
<g fill="#ee2a3a"><circle cx="223.08" cy="237.15" r="1.9"/><circle cx="237.23" cy="235.47" r="1.9"/><circle cx="251.39" cy="234.80" r="1.9"/><circle cx="265.54" cy="234.46" r="1.9"/><circle cx="279.70" cy="238.15" r="1.9"/><circle cx="293.85" cy="239.49" r="1.9"/><circle cx="308.00" cy="244.19" r="1.9"/><circle cx="322.16" cy="253.24" r="1.9"/><circle cx="336.31" cy="263.63" r="1.9"/><circle cx="350.47" cy="281.40" r="1.9"/><circle cx="364.62" cy="295.48" r="1.9"/></g>
<path d="M223.08 234.13 L237.23 232.79 L251.39 232.79 L265.54 232.79 L279.70 234.13 L293.85 237.15 L308.00 239.16 L322.16 245.53 L336.31 254.58 L350.47 271.01 L364.62 287.10" stroke="#9a6ad0" stroke-width="1.5" fill="none" stroke-linejoin="round"/>
<g fill="#9a6ad0"><circle cx="223.08" cy="234.13" r="1.9"/><circle cx="237.23" cy="232.79" r="1.9"/><circle cx="251.39" cy="232.79" r="1.9"/><circle cx="265.54" cy="232.79" r="1.9"/><circle cx="279.70" cy="234.13" r="1.9"/><circle cx="293.85" cy="237.15" r="1.9"/><circle cx="308.00" cy="239.16" r="1.9"/><circle cx="322.16" cy="245.53" r="1.9"/><circle cx="336.31" cy="254.58" r="1.9"/><circle cx="350.47" cy="271.01" r="1.9"/><circle cx="364.62" cy="287.10" r="1.9"/></g>
<path d="M223.08 232.79 L237.23 232.12 L251.39 231.78 L265.54 231.78 L279.70 233.12 L293.85 234.80 L308.00 236.48 L322.16 242.17 L336.31 250.89 L350.47 266.98 L364.62 284.08" stroke="#8c564b" stroke-width="1.5" fill="none" stroke-linejoin="round"/>
<g fill="#8c564b"><circle cx="223.08" cy="232.79" r="1.9"/><circle cx="237.23" cy="232.12" r="1.9"/><circle cx="251.39" cy="231.78" r="1.9"/><circle cx="265.54" cy="231.78" r="1.9"/><circle cx="279.70" cy="233.12" r="1.9"/><circle cx="293.85" cy="234.80" r="1.9"/><circle cx="308.00" cy="236.48" r="1.9"/><circle cx="322.16" cy="242.17" r="1.9"/><circle cx="336.31" cy="250.89" r="1.9"/><circle cx="350.47" cy="266.98" r="1.9"/><circle cx="364.62" cy="284.08" r="1.9"/></g>
<path d="M223.08 231.11 L237.23 230.78 L251.39 230.44 L265.54 230.44 L279.70 231.78 L293.85 233.12 L308.00 235.47 L322.16 239.83 L336.31 247.87 L350.47 263.30 L364.62 281.40" stroke="#f77fcf" stroke-width="1.5" fill="none" stroke-linejoin="round"/>
<g fill="#f77fcf"><circle cx="223.08" cy="231.11" r="1.9"/><circle cx="237.23" cy="230.78" r="1.9"/><circle cx="251.39" cy="230.44" r="1.9"/><circle cx="265.54" cy="230.44" r="1.9"/><circle cx="279.70" cy="231.78" r="1.9"/><circle cx="293.85" cy="233.12" r="1.9"/><circle cx="308.00" cy="235.47" r="1.9"/><circle cx="322.16" cy="239.83" r="1.9"/><circle cx="336.31" cy="247.87" r="1.9"/><circle cx="350.47" cy="263.30" r="1.9"/><circle cx="364.62" cy="281.40" r="1.9"/></g>
<path d="M223.08 231.11 L237.23 227.76 L251.39 227.76 L265.54 227.76 L279.70 229.44 L293.85 230.44 L308.00 232.79 L322.16 236.81 L336.31 245.19 L350.47 257.60 L364.62 278.05" stroke="#7f7f7f" stroke-width="1.5" fill="none" stroke-linejoin="round"/>
<g fill="#7f7f7f"><circle cx="223.08" cy="231.11" r="1.9"/><circle cx="237.23" cy="227.76" r="1.9"/><circle cx="251.39" cy="227.76" r="1.9"/><circle cx="265.54" cy="227.76" r="1.9"/><circle cx="279.70" cy="229.44" r="1.9"/><circle cx="293.85" cy="230.44" r="1.9"/><circle cx="308.00" cy="232.79" r="1.9"/><circle cx="322.16" cy="236.81" r="1.9"/><circle cx="336.31" cy="245.19" r="1.9"/><circle cx="350.47" cy="257.60" r="1.9"/><circle cx="364.62" cy="278.05" r="1.9"/></g>
<path d="M223.08 229.77 L237.23 226.75 L251.39 226.75 L265.54 226.75 L279.70 227.76 L293.85 229.10 L308.00 231.11 L322.16 235.47 L336.31 242.17 L350.47 254.58 L364.62 274.36" stroke="#c9c617" stroke-width="1.5" fill="none" stroke-linejoin="round"/>
<g fill="#c9c617"><circle cx="223.08" cy="229.77" r="1.9"/><circle cx="237.23" cy="226.75" r="1.9"/><circle cx="251.39" cy="226.75" r="1.9"/><circle cx="265.54" cy="226.75" r="1.9"/><circle cx="279.70" cy="227.76" r="1.9"/><circle cx="293.85" cy="229.10" r="1.9"/><circle cx="308.00" cy="231.11" r="1.9"/><circle cx="322.16" cy="235.47" r="1.9"/><circle cx="336.31" cy="242.17" r="1.9"/><circle cx="350.47" cy="254.58" r="1.9"/><circle cx="364.62" cy="274.36" r="1.9"/></g>
<path d="M223.08 228.43 L237.23 225.41 L251.39 225.41 L265.54 225.41 L279.70 226.08 L293.85 227.42 L308.00 229.77 L322.16 234.46 L336.31 241.17 L350.47 253.24 L364.62 271.34" stroke="#19c3d3" stroke-width="1.5" fill="none" stroke-linejoin="round"/>
<g fill="#19c3d3"><circle cx="223.08" cy="228.43" r="1.9"/><circle cx="237.23" cy="225.41" r="1.9"/><circle cx="251.39" cy="225.41" r="1.9"/><circle cx="265.54" cy="225.41" r="1.9"/><circle cx="279.70" cy="226.08" r="1.9"/><circle cx="293.85" cy="227.42" r="1.9"/><circle cx="308.00" cy="229.77" r="1.9"/><circle cx="322.16" cy="234.46" r="1.9"/><circle cx="336.31" cy="241.17" r="1.9"/><circle cx="350.47" cy="253.24" r="1.9"/><circle cx="364.62" cy="271.34" r="1.9"/></g>
<rect x="216.00" y="182.50" width="155.70" height="134.10" fill="none" stroke="#262626" stroke-width="1.3"/>
<path d="M392.98 182.50V316.60M407.13 182.50V316.60M421.29 182.50V316.60M435.44 182.50V316.60M449.60 182.50V316.60M463.75 182.50V316.60M477.90 182.50V316.60M492.06 182.50V316.60M506.21 182.50V316.60M520.37 182.50V316.60M534.52 182.50V316.60M385.90 299.84H541.60M385.90 283.08H541.60M385.90 266.31H541.60M385.90 249.55H541.60M385.90 232.79H541.60M385.90 216.03H541.60M385.90 199.26H541.60" stroke="#bdbdbd" stroke-opacity="1" stroke-width="0.8" stroke-dasharray="2.7 1.0" fill="none"/>
<path d="M392.98 231.11 L407.13 229.10 L421.29 228.43 L435.44 227.76 L449.60 229.77 L463.75 230.78 L477.90 234.13 L492.06 235.47 L506.21 248.88 L520.37 253.91 L534.52 280.73" stroke="#1f77b4" stroke-width="1.5" fill="none" stroke-linejoin="round"/>
<g fill="#1f77b4"><circle cx="392.98" cy="231.11" r="1.9"/><circle cx="407.13" cy="229.10" r="1.9"/><circle cx="421.29" cy="228.43" r="1.9"/><circle cx="435.44" cy="227.76" r="1.9"/><circle cx="449.60" cy="229.77" r="1.9"/><circle cx="463.75" cy="230.78" r="1.9"/><circle cx="477.90" cy="234.13" r="1.9"/><circle cx="492.06" cy="235.47" r="1.9"/><circle cx="506.21" cy="248.88" r="1.9"/><circle cx="520.37" cy="253.91" r="1.9"/><circle cx="534.52" cy="280.73" r="1.9"/></g>
<path d="M392.98 230.44 L407.13 227.42 L421.29 227.42 L435.44 226.75 L449.60 227.76 L463.75 230.44 L477.90 231.78 L492.06 238.82 L506.21 246.20 L520.37 254.58 L534.52 275.70" stroke="#ff7f0e" stroke-width="1.5" fill="none" stroke-linejoin="round"/>
<g fill="#ff7f0e"><circle cx="392.98" cy="230.44" r="1.9"/><circle cx="407.13" cy="227.42" r="1.9"/><circle cx="421.29" cy="227.42" r="1.9"/><circle cx="435.44" cy="226.75" r="1.9"/><circle cx="449.60" cy="227.76" r="1.9"/><circle cx="463.75" cy="230.44" r="1.9"/><circle cx="477.90" cy="231.78" r="1.9"/><circle cx="492.06" cy="238.82" r="1.9"/><circle cx="506.21" cy="246.20" r="1.9"/><circle cx="520.37" cy="254.58" r="1.9"/><circle cx="534.52" cy="275.70" r="1.9"/></g>
<path d="M392.98 226.75 L407.13 224.07 L421.29 222.39 L435.44 223.07 L449.60 225.08 L463.75 226.08 L477.90 228.43 L492.06 229.10 L506.21 237.15 L520.37 251.56 L534.52 263.97" stroke="#1fa637" stroke-width="1.5" fill="none" stroke-linejoin="round"/>
<g fill="#1fa637"><circle cx="392.98" cy="226.75" r="1.9"/><circle cx="407.13" cy="224.07" r="1.9"/><circle cx="421.29" cy="222.39" r="1.9"/><circle cx="435.44" cy="223.07" r="1.9"/><circle cx="449.60" cy="225.08" r="1.9"/><circle cx="463.75" cy="226.08" r="1.9"/><circle cx="477.90" cy="228.43" r="1.9"/><circle cx="492.06" cy="229.10" r="1.9"/><circle cx="506.21" cy="237.15" r="1.9"/><circle cx="520.37" cy="251.56" r="1.9"/><circle cx="534.52" cy="263.97" r="1.9"/></g>
<path d="M392.98 226.42 L407.13 221.05 L421.29 220.38 L435.44 222.39 L449.60 223.07 L463.75 225.08 L477.90 226.08 L492.06 229.77 L506.21 238.82 L520.37 247.87 L534.52 265.31" stroke="#ee2a3a" stroke-width="1.5" fill="none" stroke-linejoin="round"/>
<g fill="#ee2a3a"><circle cx="392.98" cy="226.42" r="1.9"/><circle cx="407.13" cy="221.05" r="1.9"/><circle cx="421.29" cy="220.38" r="1.9"/><circle cx="435.44" cy="222.39" r="1.9"/><circle cx="449.60" cy="223.07" r="1.9"/><circle cx="463.75" cy="225.08" r="1.9"/><circle cx="477.90" cy="226.08" r="1.9"/><circle cx="492.06" cy="229.77" r="1.9"/><circle cx="506.21" cy="238.82" r="1.9"/><circle cx="520.37" cy="247.87" r="1.9"/><circle cx="534.52" cy="265.31" r="1.9"/></g>
<path d="M392.98 226.08 L407.13 219.38 L421.29 219.38 L435.44 220.05 L449.60 221.72 L463.75 222.73 L477.90 225.08 L492.06 227.76 L506.21 234.80 L520.37 246.20 L534.52 262.62" stroke="#9a6ad0" stroke-width="1.5" fill="none" stroke-linejoin="round"/>
<g fill="#9a6ad0"><circle cx="392.98" cy="226.08" r="1.9"/><circle cx="407.13" cy="219.38" r="1.9"/><circle cx="421.29" cy="219.38" r="1.9"/><circle cx="435.44" cy="220.05" r="1.9"/><circle cx="449.60" cy="221.72" r="1.9"/><circle cx="463.75" cy="222.73" r="1.9"/><circle cx="477.90" cy="225.08" r="1.9"/><circle cx="492.06" cy="227.76" r="1.9"/><circle cx="506.21" cy="234.80" r="1.9"/><circle cx="520.37" cy="246.20" r="1.9"/><circle cx="534.52" cy="262.62" r="1.9"/></g>
<path d="M392.98 225.41 L407.13 218.71 L421.29 218.71 L435.44 220.05 L449.60 221.72 L463.75 222.06 L477.90 224.07 L492.06 226.75 L506.21 233.79 L520.37 243.52 L534.52 260.28" stroke="#8c564b" stroke-width="1.5" fill="none" stroke-linejoin="round"/>
<g fill="#8c564b"><circle cx="392.98" cy="225.41" r="1.9"/><circle cx="407.13" cy="218.71" r="1.9"/><circle cx="421.29" cy="218.71" r="1.9"/><circle cx="435.44" cy="220.05" r="1.9"/><circle cx="449.60" cy="221.72" r="1.9"/><circle cx="463.75" cy="222.06" r="1.9"/><circle cx="477.90" cy="224.07" r="1.9"/><circle cx="492.06" cy="226.75" r="1.9"/><circle cx="506.21" cy="233.79" r="1.9"/><circle cx="520.37" cy="243.52" r="1.9"/><circle cx="534.52" cy="260.28" r="1.9"/></g>
<path d="M392.98 224.74 L407.13 217.37 L421.29 217.37 L435.44 218.71 L449.60 220.05 L463.75 221.05 L477.90 223.07 L492.06 226.08 L506.21 232.79 L520.37 242.17 L534.52 261.95" stroke="#f77fcf" stroke-width="1.5" fill="none" stroke-linejoin="round"/>
<g fill="#f77fcf"><circle cx="392.98" cy="224.74" r="1.9"/><circle cx="407.13" cy="217.37" r="1.9"/><circle cx="421.29" cy="217.37" r="1.9"/><circle cx="435.44" cy="218.71" r="1.9"/><circle cx="449.60" cy="220.05" r="1.9"/><circle cx="463.75" cy="221.05" r="1.9"/><circle cx="477.90" cy="223.07" r="1.9"/><circle cx="492.06" cy="226.08" r="1.9"/><circle cx="506.21" cy="232.79" r="1.9"/><circle cx="520.37" cy="242.17" r="1.9"/><circle cx="534.52" cy="261.95" r="1.9"/></g>
<path d="M392.98 224.41 L407.13 216.03 L421.29 216.70 L435.44 218.04 L449.60 219.38 L463.75 220.05 L477.90 222.06 L492.06 225.08 L506.21 230.44 L520.37 240.16 L534.52 255.25" stroke="#7f7f7f" stroke-width="1.5" fill="none" stroke-linejoin="round"/>
<g fill="#7f7f7f"><circle cx="392.98" cy="224.41" r="1.9"/><circle cx="407.13" cy="216.03" r="1.9"/><circle cx="421.29" cy="216.70" r="1.9"/><circle cx="435.44" cy="218.04" r="1.9"/><circle cx="449.60" cy="219.38" r="1.9"/><circle cx="463.75" cy="220.05" r="1.9"/><circle cx="477.90" cy="222.06" r="1.9"/><circle cx="492.06" cy="225.08" r="1.9"/><circle cx="506.21" cy="230.44" r="1.9"/><circle cx="520.37" cy="240.16" r="1.9"/><circle cx="534.52" cy="255.25" r="1.9"/></g>
<path d="M392.98 223.40 L407.13 214.35 L421.29 216.03 L435.44 217.37 L449.60 218.37 L463.75 219.38 L477.90 221.05 L492.06 224.07 L506.21 229.44 L520.37 238.15 L534.52 253.57" stroke="#c9c617" stroke-width="1.5" fill="none" stroke-linejoin="round"/>
<g fill="#c9c617"><circle cx="392.98" cy="223.40" r="1.9"/><circle cx="407.13" cy="214.35" r="1.9"/><circle cx="421.29" cy="216.03" r="1.9"/><circle cx="435.44" cy="217.37" r="1.9"/><circle cx="449.60" cy="218.37" r="1.9"/><circle cx="463.75" cy="219.38" r="1.9"/><circle cx="477.90" cy="221.05" r="1.9"/><circle cx="492.06" cy="224.07" r="1.9"/><circle cx="506.21" cy="229.44" r="1.9"/><circle cx="520.37" cy="238.15" r="1.9"/><circle cx="534.52" cy="253.57" r="1.9"/></g>
<path d="M392.98 222.39 L407.13 213.01 L421.29 214.68 L435.44 216.36 L449.60 217.37 L463.75 218.37 L477.90 220.05 L492.06 223.07 L506.21 228.43 L520.37 236.81 L534.52 252.23" stroke="#19c3d3" stroke-width="1.5" fill="none" stroke-linejoin="round"/>
<g fill="#19c3d3"><circle cx="392.98" cy="222.39" r="1.9"/><circle cx="407.13" cy="213.01" r="1.9"/><circle cx="421.29" cy="214.68" r="1.9"/><circle cx="435.44" cy="216.36" r="1.9"/><circle cx="449.60" cy="217.37" r="1.9"/><circle cx="463.75" cy="218.37" r="1.9"/><circle cx="477.90" cy="220.05" r="1.9"/><circle cx="492.06" cy="223.07" r="1.9"/><circle cx="506.21" cy="228.43" r="1.9"/><circle cx="520.37" cy="236.81" r="1.9"/><circle cx="534.52" cy="252.23" r="1.9"/></g>
<rect x="385.90" y="182.50" width="155.70" height="134.10" fill="none" stroke="#262626" stroke-width="1.3"/>
<path d="M53.48 385.90V502.90M67.63 385.90V502.90M81.79 385.90V502.90M95.94 385.90V502.90M110.10 385.90V502.90M124.25 385.90V502.90M138.40 385.90V502.90M152.56 385.90V502.90M166.71 385.90V502.90M180.87 385.90V502.90M195.02 385.90V502.90M46.40 489.14H202.10M46.40 475.37H202.10M46.40 461.61H202.10M46.40 447.84H202.10M46.40 434.08H202.10M46.40 420.31H202.10M46.40 406.55H202.10M46.40 392.78H202.10" stroke="#bdbdbd" stroke-opacity="1" stroke-width="0.8" stroke-dasharray="2.7 1.0" fill="none"/>
<path d="M53.48 480.88 L67.63 440.27 L81.79 443.02 L95.94 430.64 L110.10 434.76 L124.25 423.06 L138.40 424.44 L152.56 436.14 L166.71 455.41 L180.87 451.28 L195.02 443.71" stroke="#1f77b4" stroke-width="1.5" fill="none" stroke-linejoin="round"/>
<g fill="#1f77b4"><circle cx="53.48" cy="480.88" r="1.9"/><circle cx="67.63" cy="440.27" r="1.9"/><circle cx="81.79" cy="443.02" r="1.9"/><circle cx="95.94" cy="430.64" r="1.9"/><circle cx="110.10" cy="434.76" r="1.9"/><circle cx="124.25" cy="423.06" r="1.9"/><circle cx="138.40" cy="424.44" r="1.9"/><circle cx="152.56" cy="436.14" r="1.9"/><circle cx="166.71" cy="455.41" r="1.9"/><circle cx="180.87" cy="451.28" r="1.9"/><circle cx="195.02" cy="443.71" r="1.9"/></g>
<path d="M53.48 480.19 L67.63 444.06 L81.79 463.33 L95.94 434.08 L110.10 438.55 L124.25 454.72 L138.40 425.82 L152.56 445.78 L166.71 424.44 L180.87 430.98 L195.02 482.25" stroke="#ff7f0e" stroke-width="1.5" fill="none" stroke-linejoin="round"/>
<g fill="#ff7f0e"><circle cx="53.48" cy="480.19" r="1.9"/><circle cx="67.63" cy="444.06" r="1.9"/><circle cx="81.79" cy="463.33" r="1.9"/><circle cx="95.94" cy="434.08" r="1.9"/><circle cx="110.10" cy="438.55" r="1.9"/><circle cx="124.25" cy="454.72" r="1.9"/><circle cx="138.40" cy="425.82" r="1.9"/><circle cx="152.56" cy="445.78" r="1.9"/><circle cx="166.71" cy="424.44" r="1.9"/><circle cx="180.87" cy="430.98" r="1.9"/><circle cx="195.02" cy="482.25" r="1.9"/></g>
<path d="M53.48 482.25 L67.63 450.94 L81.79 445.78 L95.94 456.10 L110.10 489.27 L124.25 489.34 L138.40 473.99 L152.56 464.01 L166.71 480.88 L180.87 485.69 L195.02 488.45" stroke="#1fa637" stroke-width="1.5" fill="none" stroke-linejoin="round"/>
<g fill="#1fa637"><circle cx="53.48" cy="482.25" r="1.9"/><circle cx="67.63" cy="450.94" r="1.9"/><circle cx="81.79" cy="445.78" r="1.9"/><circle cx="95.94" cy="456.10" r="1.9"/><circle cx="110.10" cy="489.27" r="1.9"/><circle cx="124.25" cy="489.34" r="1.9"/><circle cx="138.40" cy="473.99" r="1.9"/><circle cx="152.56" cy="464.01" r="1.9"/><circle cx="166.71" cy="480.88" r="1.9"/><circle cx="180.87" cy="485.69" r="1.9"/><circle cx="195.02" cy="488.45" r="1.9"/></g>
<path d="M53.48 479.02 L67.63 451.28 L81.79 423.06 L95.94 443.02 L110.10 491.27 L124.25 491.48 L138.40 478.81 L152.56 488.10 L166.71 474.68 L180.87 487.35 L195.02 476.06" stroke="#ee2a3a" stroke-width="1.5" fill="none" stroke-linejoin="round"/>
<g fill="#ee2a3a"><circle cx="53.48" cy="479.02" r="1.9"/><circle cx="67.63" cy="451.28" r="1.9"/><circle cx="81.79" cy="423.06" r="1.9"/><circle cx="95.94" cy="443.02" r="1.9"/><circle cx="110.10" cy="491.27" r="1.9"/><circle cx="124.25" cy="491.48" r="1.9"/><circle cx="138.40" cy="478.81" r="1.9"/><circle cx="152.56" cy="488.10" r="1.9"/><circle cx="166.71" cy="474.68" r="1.9"/><circle cx="180.87" cy="487.35" r="1.9"/><circle cx="195.02" cy="476.06" r="1.9"/></g>
<path d="M53.48 481.56 L67.63 454.04 L81.79 454.72 L95.94 456.79 L110.10 466.56 L124.25 479.84 L138.40 480.88 L152.56 467.80 L166.71 480.88 L180.87 479.50 L195.02 467.11" stroke="#9a6ad0" stroke-width="1.5" fill="none" stroke-linejoin="round"/>
<g fill="#9a6ad0"><circle cx="53.48" cy="481.56" r="1.9"/><circle cx="67.63" cy="454.04" r="1.9"/><circle cx="81.79" cy="454.72" r="1.9"/><circle cx="95.94" cy="456.79" r="1.9"/><circle cx="110.10" cy="466.56" r="1.9"/><circle cx="124.25" cy="479.84" r="1.9"/><circle cx="138.40" cy="480.88" r="1.9"/><circle cx="152.56" cy="467.80" r="1.9"/><circle cx="166.71" cy="480.88" r="1.9"/><circle cx="180.87" cy="479.50" r="1.9"/><circle cx="195.02" cy="467.11" r="1.9"/></g>
<path d="M53.48 485.01 L67.63 463.67 L81.79 488.10 L95.94 485.01 L110.10 488.10 L124.25 486.66 L138.40 483.63 L152.56 487.76 L166.71 486.38 L180.87 485.01 L195.02 485.69" stroke="#8c564b" stroke-width="1.5" fill="none" stroke-linejoin="round"/>
<g fill="#8c564b"><circle cx="53.48" cy="485.01" r="1.9"/><circle cx="67.63" cy="463.67" r="1.9"/><circle cx="81.79" cy="488.10" r="1.9"/><circle cx="95.94" cy="485.01" r="1.9"/><circle cx="110.10" cy="488.10" r="1.9"/><circle cx="124.25" cy="486.66" r="1.9"/><circle cx="138.40" cy="483.63" r="1.9"/><circle cx="152.56" cy="487.76" r="1.9"/><circle cx="166.71" cy="486.38" r="1.9"/><circle cx="180.87" cy="485.01" r="1.9"/><circle cx="195.02" cy="485.69" r="1.9"/></g>
<path d="M53.48 483.63 L67.63 451.97 L81.79 487.76 L95.94 485.69 L110.10 489.55 L124.25 481.56 L138.40 487.76 L152.56 488.10 L166.71 480.19 L180.87 489.27 L195.02 480.88" stroke="#f77fcf" stroke-width="1.5" fill="none" stroke-linejoin="round"/>
<g fill="#f77fcf"><circle cx="53.48" cy="483.63" r="1.9"/><circle cx="67.63" cy="451.97" r="1.9"/><circle cx="81.79" cy="487.76" r="1.9"/><circle cx="95.94" cy="485.69" r="1.9"/><circle cx="110.10" cy="489.55" r="1.9"/><circle cx="124.25" cy="481.56" r="1.9"/><circle cx="138.40" cy="487.76" r="1.9"/><circle cx="152.56" cy="488.10" r="1.9"/><circle cx="166.71" cy="480.19" r="1.9"/><circle cx="180.87" cy="489.27" r="1.9"/><circle cx="195.02" cy="480.88" r="1.9"/></g>
<path d="M53.48 484.32 L67.63 485.69 L81.79 464.70 L95.94 485.69 L110.10 487.07 L124.25 486.38 L138.40 484.32 L152.56 489.55 L166.71 479.50 L180.87 458.85 L195.02 483.63" stroke="#7f7f7f" stroke-width="1.5" fill="none" stroke-linejoin="round"/>
<g fill="#7f7f7f"><circle cx="53.48" cy="484.32" r="1.9"/><circle cx="67.63" cy="485.69" r="1.9"/><circle cx="81.79" cy="464.70" r="1.9"/><circle cx="95.94" cy="485.69" r="1.9"/><circle cx="110.10" cy="487.07" r="1.9"/><circle cx="124.25" cy="486.38" r="1.9"/><circle cx="138.40" cy="484.32" r="1.9"/><circle cx="152.56" cy="489.55" r="1.9"/><circle cx="166.71" cy="479.50" r="1.9"/><circle cx="180.87" cy="458.85" r="1.9"/><circle cx="195.02" cy="483.63" r="1.9"/></g>
<path d="M53.48 487.35 L67.63 473.31 L81.79 494.23 L95.94 493.95 L110.10 485.90 L124.25 485.69 L138.40 480.19 L152.56 479.09 L166.71 481.56 L180.87 465.05 L195.02 454.24" stroke="#c9c617" stroke-width="1.5" fill="none" stroke-linejoin="round"/>
<g fill="#c9c617"><circle cx="53.48" cy="487.35" r="1.9"/><circle cx="67.63" cy="473.31" r="1.9"/><circle cx="81.79" cy="494.23" r="1.9"/><circle cx="95.94" cy="493.95" r="1.9"/><circle cx="110.10" cy="485.90" r="1.9"/><circle cx="124.25" cy="485.69" r="1.9"/><circle cx="138.40" cy="480.19" r="1.9"/><circle cx="152.56" cy="479.09" r="1.9"/><circle cx="166.71" cy="481.56" r="1.9"/><circle cx="180.87" cy="465.05" r="1.9"/><circle cx="195.02" cy="454.24" r="1.9"/></g>
<path d="M53.48 482.25 L67.63 485.90 L81.79 490.99 L95.94 487.35 L110.10 483.63 L124.25 469.18 L138.40 475.71 L152.56 473.99 L166.71 477.16 L180.87 485.01 L195.02 470.55" stroke="#19c3d3" stroke-width="1.5" fill="none" stroke-linejoin="round"/>
<g fill="#19c3d3"><circle cx="53.48" cy="482.25" r="1.9"/><circle cx="67.63" cy="485.90" r="1.9"/><circle cx="81.79" cy="490.99" r="1.9"/><circle cx="95.94" cy="487.35" r="1.9"/><circle cx="110.10" cy="483.63" r="1.9"/><circle cx="124.25" cy="469.18" r="1.9"/><circle cx="138.40" cy="475.71" r="1.9"/><circle cx="152.56" cy="473.99" r="1.9"/><circle cx="166.71" cy="477.16" r="1.9"/><circle cx="180.87" cy="485.01" r="1.9"/><circle cx="195.02" cy="470.55" r="1.9"/></g>
<rect x="46.40" y="385.90" width="155.70" height="117.00" fill="none" stroke="#262626" stroke-width="1.3"/>
<path d="M223.08 385.90V502.90M237.23 385.90V502.90M251.39 385.90V502.90M265.54 385.90V502.90M279.70 385.90V502.90M293.85 385.90V502.90M308.00 385.90V502.90M322.16 385.90V502.90M336.31 385.90V502.90M350.47 385.90V502.90M364.62 385.90V502.90M216.00 489.14H371.70M216.00 475.37H371.70M216.00 461.61H371.70M216.00 447.84H371.70M216.00 434.08H371.70M216.00 420.31H371.70M216.00 406.55H371.70M216.00 392.78H371.70" stroke="#bdbdbd" stroke-opacity="1" stroke-width="0.8" stroke-dasharray="2.7 1.0" fill="none"/>
<path d="M223.08 482.25 L237.23 450.94 L251.39 447.98 L265.54 445.50 L279.70 449.91 L293.85 423.20 L308.00 453.35 L322.16 449.01 L336.31 428.02 L350.47 464.77 L364.62 435.32" stroke="#1f77b4" stroke-width="1.5" fill="none" stroke-linejoin="round"/>
<g fill="#1f77b4"><circle cx="223.08" cy="482.25" r="1.9"/><circle cx="237.23" cy="450.94" r="1.9"/><circle cx="251.39" cy="447.98" r="1.9"/><circle cx="265.54" cy="445.50" r="1.9"/><circle cx="279.70" cy="449.91" r="1.9"/><circle cx="293.85" cy="423.20" r="1.9"/><circle cx="308.00" cy="453.35" r="1.9"/><circle cx="322.16" cy="449.01" r="1.9"/><circle cx="336.31" cy="428.02" r="1.9"/><circle cx="350.47" cy="464.77" r="1.9"/><circle cx="364.62" cy="435.32" r="1.9"/></g>
<path d="M223.08 480.88 L237.23 444.40 L251.39 451.28 L265.54 454.52 L279.70 447.98 L293.85 427.61 L308.00 422.79 L322.16 490.99 L336.31 458.65 L350.47 449.01 L364.62 451.90" stroke="#ff7f0e" stroke-width="1.5" fill="none" stroke-linejoin="round"/>
<g fill="#ff7f0e"><circle cx="223.08" cy="480.88" r="1.9"/><circle cx="237.23" cy="444.40" r="1.9"/><circle cx="251.39" cy="451.28" r="1.9"/><circle cx="265.54" cy="454.52" r="1.9"/><circle cx="279.70" cy="447.98" r="1.9"/><circle cx="293.85" cy="427.61" r="1.9"/><circle cx="308.00" cy="422.79" r="1.9"/><circle cx="322.16" cy="490.99" r="1.9"/><circle cx="336.31" cy="458.65" r="1.9"/><circle cx="350.47" cy="449.01" r="1.9"/><circle cx="364.62" cy="451.90" r="1.9"/></g>
<path d="M223.08 482.25 L237.23 444.40 L251.39 458.16 L265.54 452.31 L279.70 454.52 L293.85 483.63 L308.00 481.56 L322.16 464.77 L336.31 480.53 L350.47 480.53 L364.62 455.27" stroke="#1fa637" stroke-width="1.5" fill="none" stroke-linejoin="round"/>
<g fill="#1fa637"><circle cx="223.08" cy="482.25" r="1.9"/><circle cx="237.23" cy="444.40" r="1.9"/><circle cx="251.39" cy="458.16" r="1.9"/><circle cx="265.54" cy="452.31" r="1.9"/><circle cx="279.70" cy="454.52" r="1.9"/><circle cx="293.85" cy="483.63" r="1.9"/><circle cx="308.00" cy="481.56" r="1.9"/><circle cx="322.16" cy="464.77" r="1.9"/><circle cx="336.31" cy="480.53" r="1.9"/><circle cx="350.47" cy="480.53" r="1.9"/><circle cx="364.62" cy="455.27" r="1.9"/></g>
<path d="M223.08 480.88 L237.23 444.40 L251.39 440.68 L265.54 466.22 L279.70 484.32 L293.85 488.79 L308.00 487.35 L322.16 487.35 L336.31 486.38 L350.47 491.27 L364.62 488.10" stroke="#ee2a3a" stroke-width="1.5" fill="none" stroke-linejoin="round"/>
<g fill="#ee2a3a"><circle cx="223.08" cy="480.88" r="1.9"/><circle cx="237.23" cy="444.40" r="1.9"/><circle cx="251.39" cy="440.68" r="1.9"/><circle cx="265.54" cy="466.22" r="1.9"/><circle cx="279.70" cy="484.32" r="1.9"/><circle cx="293.85" cy="488.79" r="1.9"/><circle cx="308.00" cy="487.35" r="1.9"/><circle cx="322.16" cy="487.35" r="1.9"/><circle cx="336.31" cy="486.38" r="1.9"/><circle cx="350.47" cy="491.27" r="1.9"/><circle cx="364.62" cy="488.10" r="1.9"/></g>
<path d="M223.08 480.19 L237.23 445.78 L251.39 454.72 L265.54 489.55 L279.70 474.20 L293.85 485.01 L308.00 488.79 L322.16 489.27 L336.31 455.41 L350.47 473.51 L364.62 473.51" stroke="#9a6ad0" stroke-width="1.5" fill="none" stroke-linejoin="round"/>
<g fill="#9a6ad0"><circle cx="223.08" cy="480.19" r="1.9"/><circle cx="237.23" cy="445.78" r="1.9"/><circle cx="251.39" cy="454.72" r="1.9"/><circle cx="265.54" cy="489.55" r="1.9"/><circle cx="279.70" cy="474.20" r="1.9"/><circle cx="293.85" cy="485.01" r="1.9"/><circle cx="308.00" cy="488.79" r="1.9"/><circle cx="322.16" cy="489.27" r="1.9"/><circle cx="336.31" cy="455.41" r="1.9"/><circle cx="350.47" cy="473.51" r="1.9"/><circle cx="364.62" cy="473.51" r="1.9"/></g>
<path d="M223.08 481.56 L237.23 462.57 L251.39 462.57 L265.54 476.06 L279.70 483.63 L293.85 488.10 L308.00 485.21 L322.16 482.25 L336.31 474.96 L350.47 473.31 L364.62 474.68" stroke="#8c564b" stroke-width="1.5" fill="none" stroke-linejoin="round"/>
<g fill="#8c564b"><circle cx="223.08" cy="481.56" r="1.9"/><circle cx="237.23" cy="462.57" r="1.9"/><circle cx="251.39" cy="462.57" r="1.9"/><circle cx="265.54" cy="476.06" r="1.9"/><circle cx="279.70" cy="483.63" r="1.9"/><circle cx="293.85" cy="488.10" r="1.9"/><circle cx="308.00" cy="485.21" r="1.9"/><circle cx="322.16" cy="482.25" r="1.9"/><circle cx="336.31" cy="474.96" r="1.9"/><circle cx="350.47" cy="473.31" r="1.9"/><circle cx="364.62" cy="474.68" r="1.9"/></g>
<path d="M223.08 477.23 L237.23 442.61 L251.39 484.32 L265.54 464.50 L279.70 483.63 L293.85 484.32 L308.00 487.76 L322.16 466.97 L336.31 473.51 L350.47 476.40 L364.62 479.64" stroke="#f77fcf" stroke-width="1.5" fill="none" stroke-linejoin="round"/>
<g fill="#f77fcf"><circle cx="223.08" cy="477.23" r="1.9"/><circle cx="237.23" cy="442.61" r="1.9"/><circle cx="251.39" cy="484.32" r="1.9"/><circle cx="265.54" cy="464.50" r="1.9"/><circle cx="279.70" cy="483.63" r="1.9"/><circle cx="293.85" cy="484.32" r="1.9"/><circle cx="308.00" cy="487.76" r="1.9"/><circle cx="322.16" cy="466.97" r="1.9"/><circle cx="336.31" cy="473.51" r="1.9"/><circle cx="350.47" cy="476.40" r="1.9"/><circle cx="364.62" cy="479.64" r="1.9"/></g>
<path d="M223.08 486.66 L237.23 489.55 L251.39 490.99 L265.54 489.55 L279.70 490.99 L293.85 487.76 L308.00 484.32 L322.16 482.25 L336.31 474.68 L350.47 474.96 L364.62 462.57" stroke="#7f7f7f" stroke-width="1.5" fill="none" stroke-linejoin="round"/>
<g fill="#7f7f7f"><circle cx="223.08" cy="486.66" r="1.9"/><circle cx="237.23" cy="489.55" r="1.9"/><circle cx="251.39" cy="490.99" r="1.9"/><circle cx="265.54" cy="489.55" r="1.9"/><circle cx="279.70" cy="490.99" r="1.9"/><circle cx="293.85" cy="487.76" r="1.9"/><circle cx="308.00" cy="484.32" r="1.9"/><circle cx="322.16" cy="482.25" r="1.9"/><circle cx="336.31" cy="474.68" r="1.9"/><circle cx="350.47" cy="474.96" r="1.9"/><circle cx="364.62" cy="462.57" r="1.9"/></g>
<path d="M223.08 483.63 L237.23 488.10 L251.39 494.64 L265.54 493.20 L279.70 487.76 L293.85 492.16 L308.00 487.76 L322.16 472.76 L336.31 465.53 L350.47 467.46 L364.62 471.79" stroke="#c9c617" stroke-width="1.5" fill="none" stroke-linejoin="round"/>
<g fill="#c9c617"><circle cx="223.08" cy="483.63" r="1.9"/><circle cx="237.23" cy="488.10" r="1.9"/><circle cx="251.39" cy="494.64" r="1.9"/><circle cx="265.54" cy="493.20" r="1.9"/><circle cx="279.70" cy="487.76" r="1.9"/><circle cx="293.85" cy="492.16" r="1.9"/><circle cx="308.00" cy="487.76" r="1.9"/><circle cx="322.16" cy="472.76" r="1.9"/><circle cx="336.31" cy="465.53" r="1.9"/><circle cx="350.47" cy="467.46" r="1.9"/><circle cx="364.62" cy="471.79" r="1.9"/></g>
<path d="M223.08 483.63 L237.23 476.06 L251.39 491.75 L265.54 492.44 L279.70 479.64 L293.85 481.56 L308.00 461.61 L322.16 480.19 L336.31 488.45 L350.47 464.08 L364.62 465.53" stroke="#19c3d3" stroke-width="1.5" fill="none" stroke-linejoin="round"/>
<g fill="#19c3d3"><circle cx="223.08" cy="483.63" r="1.9"/><circle cx="237.23" cy="476.06" r="1.9"/><circle cx="251.39" cy="491.75" r="1.9"/><circle cx="265.54" cy="492.44" r="1.9"/><circle cx="279.70" cy="479.64" r="1.9"/><circle cx="293.85" cy="481.56" r="1.9"/><circle cx="308.00" cy="461.61" r="1.9"/><circle cx="322.16" cy="480.19" r="1.9"/><circle cx="336.31" cy="488.45" r="1.9"/><circle cx="350.47" cy="464.08" r="1.9"/><circle cx="364.62" cy="465.53" r="1.9"/></g>
<rect x="216.00" y="385.90" width="155.70" height="117.00" fill="none" stroke="#262626" stroke-width="1.3"/>
<path d="M392.98 385.90V502.90M407.13 385.90V502.90M421.29 385.90V502.90M435.44 385.90V502.90M449.60 385.90V502.90M463.75 385.90V502.90M477.90 385.90V502.90M492.06 385.90V502.90M506.21 385.90V502.90M520.37 385.90V502.90M534.52 385.90V502.90M385.90 489.14H541.60M385.90 475.37H541.60M385.90 461.61H541.60M385.90 447.84H541.60M385.90 434.08H541.60M385.90 420.31H541.60M385.90 406.55H541.60M385.90 392.78H541.60" stroke="#bdbdbd" stroke-opacity="1" stroke-width="0.8" stroke-dasharray="2.7 1.0" fill="none"/>
<path d="M392.98 479.50 L407.13 443.23 L421.29 440.68 L435.44 438.48 L449.60 437.38 L463.75 414.87 L477.90 429.47 L492.06 444.06 L506.21 488.79 L520.37 480.05 L534.52 429.05" stroke="#1f77b4" stroke-width="1.5" fill="none" stroke-linejoin="round"/>
<g fill="#1f77b4"><circle cx="392.98" cy="479.50" r="1.9"/><circle cx="407.13" cy="443.23" r="1.9"/><circle cx="421.29" cy="440.68" r="1.9"/><circle cx="435.44" cy="438.48" r="1.9"/><circle cx="449.60" cy="437.38" r="1.9"/><circle cx="463.75" cy="414.87" r="1.9"/><circle cx="477.90" cy="429.47" r="1.9"/><circle cx="492.06" cy="444.06" r="1.9"/><circle cx="506.21" cy="488.79" r="1.9"/><circle cx="520.37" cy="480.05" r="1.9"/><circle cx="534.52" cy="429.05" r="1.9"/></g>
<path d="M392.98 478.12 L407.13 466.97 L421.29 460.71 L435.44 434.90 L449.60 440.68 L463.75 447.98 L477.90 429.05 L492.06 478.61 L506.21 488.10 L520.37 478.61 L534.52 458.92" stroke="#ff7f0e" stroke-width="1.5" fill="none" stroke-linejoin="round"/>
<g fill="#ff7f0e"><circle cx="392.98" cy="478.12" r="1.9"/><circle cx="407.13" cy="466.97" r="1.9"/><circle cx="421.29" cy="460.71" r="1.9"/><circle cx="435.44" cy="434.90" r="1.9"/><circle cx="449.60" cy="440.68" r="1.9"/><circle cx="463.75" cy="447.98" r="1.9"/><circle cx="477.90" cy="429.05" r="1.9"/><circle cx="492.06" cy="478.61" r="1.9"/><circle cx="506.21" cy="488.10" r="1.9"/><circle cx="520.37" cy="478.61" r="1.9"/><circle cx="534.52" cy="458.92" r="1.9"/></g>
<path d="M392.98 478.81 L407.13 440.27 L421.29 472.34 L435.44 456.03 L449.60 464.77 L463.75 492.44 L477.90 492.44 L492.06 479.64 L506.21 443.16 L520.37 480.53 L534.52 487.76" stroke="#1fa637" stroke-width="1.5" fill="none" stroke-linejoin="round"/>
<g fill="#1fa637"><circle cx="392.98" cy="478.81" r="1.9"/><circle cx="407.13" cy="440.27" r="1.9"/><circle cx="421.29" cy="472.34" r="1.9"/><circle cx="435.44" cy="456.03" r="1.9"/><circle cx="449.60" cy="464.77" r="1.9"/><circle cx="463.75" cy="492.44" r="1.9"/><circle cx="477.90" cy="492.44" r="1.9"/><circle cx="492.06" cy="479.64" r="1.9"/><circle cx="506.21" cy="443.16" r="1.9"/><circle cx="520.37" cy="480.53" r="1.9"/><circle cx="534.52" cy="487.76" r="1.9"/></g>
<path d="M392.98 477.23 L407.13 445.09 L421.29 473.31 L435.44 490.31 L449.60 464.08 L463.75 484.87 L477.90 489.27 L492.06 491.20 L506.21 488.45 L520.37 480.05 L534.52 483.01" stroke="#ee2a3a" stroke-width="1.5" fill="none" stroke-linejoin="round"/>
<g fill="#ee2a3a"><circle cx="392.98" cy="477.23" r="1.9"/><circle cx="407.13" cy="445.09" r="1.9"/><circle cx="421.29" cy="473.31" r="1.9"/><circle cx="435.44" cy="490.31" r="1.9"/><circle cx="449.60" cy="464.08" r="1.9"/><circle cx="463.75" cy="484.87" r="1.9"/><circle cx="477.90" cy="489.27" r="1.9"/><circle cx="492.06" cy="491.20" r="1.9"/><circle cx="506.21" cy="488.45" r="1.9"/><circle cx="520.37" cy="480.05" r="1.9"/><circle cx="534.52" cy="483.01" r="1.9"/></g>
<path d="M392.98 480.19 L407.13 456.79 L421.29 468.01 L435.44 489.55 L449.60 487.76 L463.75 488.79 L477.90 490.51 L492.06 492.44 L506.21 490.99 L520.37 489.27 L534.52 448.39" stroke="#9a6ad0" stroke-width="1.5" fill="none" stroke-linejoin="round"/>
<g fill="#9a6ad0"><circle cx="392.98" cy="480.19" r="1.9"/><circle cx="407.13" cy="456.79" r="1.9"/><circle cx="421.29" cy="468.01" r="1.9"/><circle cx="435.44" cy="489.55" r="1.9"/><circle cx="449.60" cy="487.76" r="1.9"/><circle cx="463.75" cy="488.79" r="1.9"/><circle cx="477.90" cy="490.51" r="1.9"/><circle cx="492.06" cy="492.44" r="1.9"/><circle cx="506.21" cy="490.99" r="1.9"/><circle cx="520.37" cy="489.27" r="1.9"/><circle cx="534.52" cy="448.39" r="1.9"/></g>
<path d="M392.98 477.23 L407.13 445.78 L421.29 484.46 L435.44 490.31 L449.60 488.79 L463.75 489.27 L477.90 490.31 L492.06 490.72 L506.21 489.14 L520.37 485.21 L534.52 466.22" stroke="#8c564b" stroke-width="1.5" fill="none" stroke-linejoin="round"/>
<g fill="#8c564b"><circle cx="392.98" cy="477.23" r="1.9"/><circle cx="407.13" cy="445.78" r="1.9"/><circle cx="421.29" cy="484.46" r="1.9"/><circle cx="435.44" cy="490.31" r="1.9"/><circle cx="449.60" cy="488.79" r="1.9"/><circle cx="463.75" cy="489.27" r="1.9"/><circle cx="477.90" cy="490.31" r="1.9"/><circle cx="492.06" cy="490.72" r="1.9"/><circle cx="506.21" cy="489.14" r="1.9"/><circle cx="520.37" cy="485.21" r="1.9"/><circle cx="534.52" cy="466.22" r="1.9"/></g>
<path d="M392.98 480.19 L407.13 468.49 L421.29 475.71 L435.44 495.40 L449.60 485.21 L463.75 490.31 L477.90 481.56 L492.06 492.16 L506.21 479.36 L520.37 482.25 L534.52 484.46" stroke="#f77fcf" stroke-width="1.5" fill="none" stroke-linejoin="round"/>
<g fill="#f77fcf"><circle cx="392.98" cy="480.19" r="1.9"/><circle cx="407.13" cy="468.49" r="1.9"/><circle cx="421.29" cy="475.71" r="1.9"/><circle cx="435.44" cy="495.40" r="1.9"/><circle cx="449.60" cy="485.21" r="1.9"/><circle cx="463.75" cy="490.31" r="1.9"/><circle cx="477.90" cy="481.56" r="1.9"/><circle cx="492.06" cy="492.16" r="1.9"/><circle cx="506.21" cy="479.36" r="1.9"/><circle cx="520.37" cy="482.25" r="1.9"/><circle cx="534.52" cy="484.46" r="1.9"/></g>
<path d="M392.98 488.10 L407.13 447.15 L421.29 489.55 L435.44 490.51 L449.60 489.14 L463.75 489.82 L477.90 489.82 L492.06 491.20 L506.21 490.31 L520.37 489.27 L534.52 477.16" stroke="#7f7f7f" stroke-width="1.5" fill="none" stroke-linejoin="round"/>
<g fill="#7f7f7f"><circle cx="392.98" cy="488.10" r="1.9"/><circle cx="407.13" cy="447.15" r="1.9"/><circle cx="421.29" cy="489.55" r="1.9"/><circle cx="435.44" cy="490.51" r="1.9"/><circle cx="449.60" cy="489.14" r="1.9"/><circle cx="463.75" cy="489.82" r="1.9"/><circle cx="477.90" cy="489.82" r="1.9"/><circle cx="492.06" cy="491.20" r="1.9"/><circle cx="506.21" cy="490.31" r="1.9"/><circle cx="520.37" cy="489.27" r="1.9"/><circle cx="534.52" cy="477.16" r="1.9"/></g>
<path d="M392.98 484.46 L407.13 489.55 L421.29 492.16 L435.44 493.20 L449.60 494.64 L463.75 493.20 L477.90 493.20 L492.06 494.64 L506.21 494.64 L520.37 494.64 L534.52 496.57" stroke="#c9c617" stroke-width="1.5" fill="none" stroke-linejoin="round"/>
<g fill="#c9c617"><circle cx="392.98" cy="484.46" r="1.9"/><circle cx="407.13" cy="489.55" r="1.9"/><circle cx="421.29" cy="492.16" r="1.9"/><circle cx="435.44" cy="493.20" r="1.9"/><circle cx="449.60" cy="494.64" r="1.9"/><circle cx="463.75" cy="493.20" r="1.9"/><circle cx="477.90" cy="493.20" r="1.9"/><circle cx="492.06" cy="494.64" r="1.9"/><circle cx="506.21" cy="494.64" r="1.9"/><circle cx="520.37" cy="494.64" r="1.9"/><circle cx="534.52" cy="496.57" r="1.9"/></g>
<path d="M392.98 479.02 L407.13 491.27 L421.29 494.64 L435.44 490.99 L449.60 495.05 L463.75 496.57 L477.90 493.95 L492.06 496.84 L506.21 496.09 L520.37 496.57 L534.52 492.44" stroke="#19c3d3" stroke-width="1.5" fill="none" stroke-linejoin="round"/>
<g fill="#19c3d3"><circle cx="392.98" cy="479.02" r="1.9"/><circle cx="407.13" cy="491.27" r="1.9"/><circle cx="421.29" cy="494.64" r="1.9"/><circle cx="435.44" cy="490.99" r="1.9"/><circle cx="449.60" cy="495.05" r="1.9"/><circle cx="463.75" cy="496.57" r="1.9"/><circle cx="477.90" cy="493.95" r="1.9"/><circle cx="492.06" cy="496.84" r="1.9"/><circle cx="506.21" cy="496.09" r="1.9"/><circle cx="520.37" cy="496.57" r="1.9"/><circle cx="534.52" cy="492.44" r="1.9"/></g>
<rect x="385.90" y="385.90" width="155.70" height="117.00" fill="none" stroke="#262626" stroke-width="1.3"/>
<path d="M53.48 530.10V647.30M67.63 530.10V647.30M81.79 530.10V647.30M95.94 530.10V647.30M110.10 530.10V647.30M124.25 530.10V647.30M138.40 530.10V647.30M152.56 530.10V647.30M166.71 530.10V647.30M180.87 530.10V647.30M195.02 530.10V647.30M46.40 633.51H202.10M46.40 619.72H202.10M46.40 605.94H202.10M46.40 592.15H202.10M46.40 578.36H202.10M46.40 564.57H202.10M46.40 550.78H202.10M46.40 536.99H202.10" stroke="#bdbdbd" stroke-opacity="1" stroke-width="0.8" stroke-dasharray="2.7 1.0" fill="none"/>
<path d="M53.48 622.69 L67.63 604.56 L81.79 579.74 L95.94 571.74 L110.10 591.39 L124.25 583.39 L138.40 573.19 L152.56 584.56 L166.71 596.21 L180.87 585.60 L195.02 600.56" stroke="#1f77b4" stroke-width="1.5" fill="none" stroke-linejoin="round"/>
<g fill="#1f77b4"><circle cx="53.48" cy="622.69" r="1.9"/><circle cx="67.63" cy="604.56" r="1.9"/><circle cx="81.79" cy="579.74" r="1.9"/><circle cx="95.94" cy="571.74" r="1.9"/><circle cx="110.10" cy="591.39" r="1.9"/><circle cx="124.25" cy="583.39" r="1.9"/><circle cx="138.40" cy="573.19" r="1.9"/><circle cx="152.56" cy="584.56" r="1.9"/><circle cx="166.71" cy="596.21" r="1.9"/><circle cx="180.87" cy="585.60" r="1.9"/><circle cx="195.02" cy="600.56" r="1.9"/></g>
<path d="M53.48 609.86 L67.63 602.49 L81.79 585.25 L95.94 597.18 L110.10 575.39 L124.25 586.56 L138.40 573.19 L152.56 584.56 L166.71 603.04 L180.87 584.56 L195.02 564.78" stroke="#ff7f0e" stroke-width="1.5" fill="none" stroke-linejoin="round"/>
<g fill="#ff7f0e"><circle cx="53.48" cy="609.86" r="1.9"/><circle cx="67.63" cy="602.49" r="1.9"/><circle cx="81.79" cy="585.25" r="1.9"/><circle cx="95.94" cy="597.18" r="1.9"/><circle cx="110.10" cy="575.39" r="1.9"/><circle cx="124.25" cy="586.56" r="1.9"/><circle cx="138.40" cy="573.19" r="1.9"/><circle cx="152.56" cy="584.56" r="1.9"/><circle cx="166.71" cy="603.04" r="1.9"/><circle cx="180.87" cy="584.56" r="1.9"/><circle cx="195.02" cy="564.78" r="1.9"/></g>
<path d="M53.48 623.45 L67.63 578.36 L81.79 590.08 L95.94 624.89 L110.10 602.28 L124.25 621.24 L138.40 637.23 L152.56 619.03 L166.71 637.23 L180.87 635.79 L195.02 636.55" stroke="#1fa637" stroke-width="1.5" fill="none" stroke-linejoin="round"/>
<g fill="#1fa637"><circle cx="53.48" cy="623.45" r="1.9"/><circle cx="67.63" cy="578.36" r="1.9"/><circle cx="81.79" cy="590.08" r="1.9"/><circle cx="95.94" cy="624.89" r="1.9"/><circle cx="110.10" cy="602.28" r="1.9"/><circle cx="124.25" cy="621.24" r="1.9"/><circle cx="138.40" cy="637.23" r="1.9"/><circle cx="152.56" cy="619.03" r="1.9"/><circle cx="166.71" cy="637.23" r="1.9"/><circle cx="180.87" cy="635.79" r="1.9"/><circle cx="195.02" cy="636.55" r="1.9"/></g>
<path d="M53.48 625.93 L67.63 585.25 L81.79 587.05 L95.94 623.86 L110.10 604.49 L124.25 630.69 L138.40 634.34 L152.56 635.79 L166.71 637.23 L180.87 639.03 L195.02 640.20" stroke="#ee2a3a" stroke-width="1.5" fill="none" stroke-linejoin="round"/>
<g fill="#ee2a3a"><circle cx="53.48" cy="625.93" r="1.9"/><circle cx="67.63" cy="585.25" r="1.9"/><circle cx="81.79" cy="587.05" r="1.9"/><circle cx="95.94" cy="623.86" r="1.9"/><circle cx="110.10" cy="604.49" r="1.9"/><circle cx="124.25" cy="630.69" r="1.9"/><circle cx="138.40" cy="634.34" r="1.9"/><circle cx="152.56" cy="635.79" r="1.9"/><circle cx="166.71" cy="637.23" r="1.9"/><circle cx="180.87" cy="639.03" r="1.9"/><circle cx="195.02" cy="640.20" r="1.9"/></g>
<path d="M53.48 621.52 L67.63 600.83 L81.79 612.48 L95.94 624.14 L110.10 637.23 L124.25 631.44 L138.40 629.24 L152.56 635.79 L166.71 635.79 L180.87 634.34 L195.02 637.23" stroke="#9a6ad0" stroke-width="1.5" fill="none" stroke-linejoin="round"/>
<g fill="#9a6ad0"><circle cx="53.48" cy="621.52" r="1.9"/><circle cx="67.63" cy="600.83" r="1.9"/><circle cx="81.79" cy="612.48" r="1.9"/><circle cx="95.94" cy="624.14" r="1.9"/><circle cx="110.10" cy="637.23" r="1.9"/><circle cx="124.25" cy="631.44" r="1.9"/><circle cx="138.40" cy="629.24" r="1.9"/><circle cx="152.56" cy="635.79" r="1.9"/><circle cx="166.71" cy="635.79" r="1.9"/><circle cx="180.87" cy="634.34" r="1.9"/><circle cx="195.02" cy="637.23" r="1.9"/></g>
<path d="M53.48 624.89 L67.63 603.87 L81.79 622.00 L95.94 629.24 L110.10 639.03 L124.25 635.79 L138.40 642.34 L152.56 637.99 L166.71 636.96 L180.87 636.55 L195.02 635.79" stroke="#8c564b" stroke-width="1.5" fill="none" stroke-linejoin="round"/>
<g fill="#8c564b"><circle cx="53.48" cy="624.89" r="1.9"/><circle cx="67.63" cy="603.87" r="1.9"/><circle cx="81.79" cy="622.00" r="1.9"/><circle cx="95.94" cy="629.24" r="1.9"/><circle cx="110.10" cy="639.03" r="1.9"/><circle cx="124.25" cy="635.79" r="1.9"/><circle cx="138.40" cy="642.34" r="1.9"/><circle cx="152.56" cy="637.99" r="1.9"/><circle cx="166.71" cy="636.96" r="1.9"/><circle cx="180.87" cy="636.55" r="1.9"/><circle cx="195.02" cy="635.79" r="1.9"/></g>
<path d="M53.48 630.27 L67.63 597.18 L81.79 607.87 L95.94 617.17 L110.10 609.31 L124.25 623.86 L138.40 625.31 L152.56 632.13 L166.71 635.79 L180.87 630.00 L195.02 632.89" stroke="#f77fcf" stroke-width="1.5" fill="none" stroke-linejoin="round"/>
<g fill="#f77fcf"><circle cx="53.48" cy="630.27" r="1.9"/><circle cx="67.63" cy="597.18" r="1.9"/><circle cx="81.79" cy="607.87" r="1.9"/><circle cx="95.94" cy="617.17" r="1.9"/><circle cx="110.10" cy="609.31" r="1.9"/><circle cx="124.25" cy="623.86" r="1.9"/><circle cx="138.40" cy="625.31" r="1.9"/><circle cx="152.56" cy="632.13" r="1.9"/><circle cx="166.71" cy="635.79" r="1.9"/><circle cx="180.87" cy="630.00" r="1.9"/><circle cx="195.02" cy="632.89" r="1.9"/></g>
<path d="M53.48 639.03 L67.63 637.23 L81.79 629.24 L95.94 625.58 L110.10 617.59 L124.25 622.00 L138.40 613.66 L152.56 618.34 L166.71 608.83 L180.87 613.24 L195.02 619.79" stroke="#7f7f7f" stroke-width="1.5" fill="none" stroke-linejoin="round"/>
<g fill="#7f7f7f"><circle cx="53.48" cy="639.03" r="1.9"/><circle cx="67.63" cy="637.23" r="1.9"/><circle cx="81.79" cy="629.24" r="1.9"/><circle cx="95.94" cy="625.58" r="1.9"/><circle cx="110.10" cy="617.59" r="1.9"/><circle cx="124.25" cy="622.00" r="1.9"/><circle cx="138.40" cy="613.66" r="1.9"/><circle cx="152.56" cy="618.34" r="1.9"/><circle cx="166.71" cy="608.83" r="1.9"/><circle cx="180.87" cy="613.24" r="1.9"/><circle cx="195.02" cy="619.79" r="1.9"/></g>
<path d="M53.48 643.09 L67.63 643.85 L81.79 641.92 L95.94 636.55 L110.10 638.41 L124.25 636.55 L138.40 632.89 L152.56 629.65 L166.71 626.34 L180.87 622.00 L195.02 625.31" stroke="#c9c617" stroke-width="1.5" fill="none" stroke-linejoin="round"/>
<g fill="#c9c617"><circle cx="53.48" cy="643.09" r="1.9"/><circle cx="67.63" cy="643.85" r="1.9"/><circle cx="81.79" cy="641.92" r="1.9"/><circle cx="95.94" cy="636.55" r="1.9"/><circle cx="110.10" cy="638.41" r="1.9"/><circle cx="124.25" cy="636.55" r="1.9"/><circle cx="138.40" cy="632.89" r="1.9"/><circle cx="152.56" cy="629.65" r="1.9"/><circle cx="166.71" cy="626.34" r="1.9"/><circle cx="180.87" cy="622.00" r="1.9"/><circle cx="195.02" cy="625.31" r="1.9"/></g>
<path d="M53.48 644.82 L67.63 644.54 L81.79 643.85 L95.94 642.34 L110.10 641.65 L124.25 639.03 L138.40 637.23 L152.56 635.10 L166.71 637.23 L180.87 630.69 L195.02 630.69" stroke="#19c3d3" stroke-width="1.5" fill="none" stroke-linejoin="round"/>
<g fill="#19c3d3"><circle cx="53.48" cy="644.82" r="1.9"/><circle cx="67.63" cy="644.54" r="1.9"/><circle cx="81.79" cy="643.85" r="1.9"/><circle cx="95.94" cy="642.34" r="1.9"/><circle cx="110.10" cy="641.65" r="1.9"/><circle cx="124.25" cy="639.03" r="1.9"/><circle cx="138.40" cy="637.23" r="1.9"/><circle cx="152.56" cy="635.10" r="1.9"/><circle cx="166.71" cy="637.23" r="1.9"/><circle cx="180.87" cy="630.69" r="1.9"/><circle cx="195.02" cy="630.69" r="1.9"/></g>
<rect x="46.40" y="530.10" width="155.70" height="117.20" fill="none" stroke="#262626" stroke-width="1.3"/>
<path d="M223.08 530.10V647.30M237.23 530.10V647.30M251.39 530.10V647.30M265.54 530.10V647.30M279.70 530.10V647.30M293.85 530.10V647.30M308.00 530.10V647.30M322.16 530.10V647.30M336.31 530.10V647.30M350.47 530.10V647.30M364.62 530.10V647.30M216.00 633.51H371.70M216.00 619.72H371.70M216.00 605.94H371.70M216.00 592.15H371.70M216.00 578.36H371.70M216.00 564.57H371.70M216.00 550.78H371.70M216.00 536.99H371.70" stroke="#bdbdbd" stroke-opacity="1" stroke-width="0.8" stroke-dasharray="2.7 1.0" fill="none"/>
<path d="M223.08 632.89 L237.23 616.55 L251.39 609.31 L265.54 614.28 L279.70 595.73 L293.85 587.46 L308.00 580.50 L322.16 576.36 L336.31 581.19 L350.47 564.78 L364.62 577.88" stroke="#1f77b4" stroke-width="1.5" fill="none" stroke-linejoin="round"/>
<g fill="#1f77b4"><circle cx="223.08" cy="632.89" r="1.9"/><circle cx="237.23" cy="616.55" r="1.9"/><circle cx="251.39" cy="609.31" r="1.9"/><circle cx="265.54" cy="614.28" r="1.9"/><circle cx="279.70" cy="595.73" r="1.9"/><circle cx="293.85" cy="587.46" r="1.9"/><circle cx="308.00" cy="580.50" r="1.9"/><circle cx="322.16" cy="576.36" r="1.9"/><circle cx="336.31" cy="581.19" r="1.9"/><circle cx="350.47" cy="564.78" r="1.9"/><circle cx="364.62" cy="577.88" r="1.9"/></g>
<path d="M223.08 636.96 L237.23 633.17 L251.39 625.93 L265.54 608.83 L279.70 619.03 L293.85 606.97 L308.00 608.14 L322.16 597.18 L336.31 589.18 L350.47 587.46 L364.62 581.19" stroke="#ff7f0e" stroke-width="1.5" fill="none" stroke-linejoin="round"/>
<g fill="#ff7f0e"><circle cx="223.08" cy="636.96" r="1.9"/><circle cx="237.23" cy="633.17" r="1.9"/><circle cx="251.39" cy="625.93" r="1.9"/><circle cx="265.54" cy="608.83" r="1.9"/><circle cx="279.70" cy="619.03" r="1.9"/><circle cx="293.85" cy="606.97" r="1.9"/><circle cx="308.00" cy="608.14" r="1.9"/><circle cx="322.16" cy="597.18" r="1.9"/><circle cx="336.31" cy="589.18" r="1.9"/><circle cx="350.47" cy="587.46" r="1.9"/><circle cx="364.62" cy="581.19" r="1.9"/></g>
<path d="M223.08 643.09 L237.23 643.37 L251.39 643.37 L265.54 641.92 L279.70 639.03 L293.85 638.41 L308.00 636.55 L322.16 625.93 L336.31 622.69 L350.47 622.41 L364.62 623.45" stroke="#1fa637" stroke-width="1.5" fill="none" stroke-linejoin="round"/>
<g fill="#1fa637"><circle cx="223.08" cy="643.09" r="1.9"/><circle cx="237.23" cy="643.37" r="1.9"/><circle cx="251.39" cy="643.37" r="1.9"/><circle cx="265.54" cy="641.92" r="1.9"/><circle cx="279.70" cy="639.03" r="1.9"/><circle cx="293.85" cy="638.41" r="1.9"/><circle cx="308.00" cy="636.55" r="1.9"/><circle cx="322.16" cy="625.93" r="1.9"/><circle cx="336.31" cy="622.69" r="1.9"/><circle cx="350.47" cy="622.41" r="1.9"/><circle cx="364.62" cy="623.45" r="1.9"/></g>
<path d="M223.08 644.54 L237.23 643.85 L251.39 643.85 L265.54 644.54 L279.70 643.09 L293.85 642.34 L308.00 639.44 L322.16 637.99 L336.31 629.65 L350.47 624.14 L364.62 631.72" stroke="#ee2a3a" stroke-width="1.5" fill="none" stroke-linejoin="round"/>
<g fill="#ee2a3a"><circle cx="223.08" cy="644.54" r="1.9"/><circle cx="237.23" cy="643.85" r="1.9"/><circle cx="251.39" cy="643.85" r="1.9"/><circle cx="265.54" cy="644.54" r="1.9"/><circle cx="279.70" cy="643.09" r="1.9"/><circle cx="293.85" cy="642.34" r="1.9"/><circle cx="308.00" cy="639.44" r="1.9"/><circle cx="322.16" cy="637.99" r="1.9"/><circle cx="336.31" cy="629.65" r="1.9"/><circle cx="350.47" cy="624.14" r="1.9"/><circle cx="364.62" cy="631.72" r="1.9"/></g>
<path d="M223.08 644.54 L237.23 644.20 L251.39 644.20 L265.54 643.85 L279.70 643.51 L293.85 643.16 L308.00 642.34 L322.16 637.99 L336.31 638.68 L350.47 630.00 L364.62 629.65" stroke="#9a6ad0" stroke-width="1.5" fill="none" stroke-linejoin="round"/>
<g fill="#9a6ad0"><circle cx="223.08" cy="644.54" r="1.9"/><circle cx="237.23" cy="644.20" r="1.9"/><circle cx="251.39" cy="644.20" r="1.9"/><circle cx="265.54" cy="643.85" r="1.9"/><circle cx="279.70" cy="643.51" r="1.9"/><circle cx="293.85" cy="643.16" r="1.9"/><circle cx="308.00" cy="642.34" r="1.9"/><circle cx="322.16" cy="637.99" r="1.9"/><circle cx="336.31" cy="638.68" r="1.9"/><circle cx="350.47" cy="630.00" r="1.9"/><circle cx="364.62" cy="629.65" r="1.9"/></g>
<path d="M223.08 644.89 L237.23 644.54 L251.39 644.54 L265.54 644.20 L279.70 643.85 L293.85 643.85 L308.00 643.16 L322.16 642.34 L336.31 637.23 L350.47 632.13 L364.62 632.89" stroke="#8c564b" stroke-width="1.5" fill="none" stroke-linejoin="round"/>
<g fill="#8c564b"><circle cx="223.08" cy="644.89" r="1.9"/><circle cx="237.23" cy="644.54" r="1.9"/><circle cx="251.39" cy="644.54" r="1.9"/><circle cx="265.54" cy="644.20" r="1.9"/><circle cx="279.70" cy="643.85" r="1.9"/><circle cx="293.85" cy="643.85" r="1.9"/><circle cx="308.00" cy="643.16" r="1.9"/><circle cx="322.16" cy="642.34" r="1.9"/><circle cx="336.31" cy="637.23" r="1.9"/><circle cx="350.47" cy="632.13" r="1.9"/><circle cx="364.62" cy="632.89" r="1.9"/></g>
<path d="M223.08 645.23 L237.23 644.89 L251.39 644.54 L265.54 644.54 L279.70 644.20 L293.85 644.20 L308.00 643.51 L322.16 641.65 L336.31 640.20 L350.47 631.44 L364.62 631.44" stroke="#f77fcf" stroke-width="1.5" fill="none" stroke-linejoin="round"/>
<g fill="#f77fcf"><circle cx="223.08" cy="645.23" r="1.9"/><circle cx="237.23" cy="644.89" r="1.9"/><circle cx="251.39" cy="644.54" r="1.9"/><circle cx="265.54" cy="644.54" r="1.9"/><circle cx="279.70" cy="644.20" r="1.9"/><circle cx="293.85" cy="644.20" r="1.9"/><circle cx="308.00" cy="643.51" r="1.9"/><circle cx="322.16" cy="641.65" r="1.9"/><circle cx="336.31" cy="640.20" r="1.9"/><circle cx="350.47" cy="631.44" r="1.9"/><circle cx="364.62" cy="631.44" r="1.9"/></g>
<path d="M223.08 645.23 L237.23 645.23 L251.39 644.89 L265.54 644.89 L279.70 644.54 L293.85 644.54 L308.00 643.85 L322.16 642.47 L336.31 640.89 L350.47 636.55 L364.62 632.89" stroke="#7f7f7f" stroke-width="1.5" fill="none" stroke-linejoin="round"/>
<g fill="#7f7f7f"><circle cx="223.08" cy="645.23" r="1.9"/><circle cx="237.23" cy="645.23" r="1.9"/><circle cx="251.39" cy="644.89" r="1.9"/><circle cx="265.54" cy="644.89" r="1.9"/><circle cx="279.70" cy="644.54" r="1.9"/><circle cx="293.85" cy="644.54" r="1.9"/><circle cx="308.00" cy="643.85" r="1.9"/><circle cx="322.16" cy="642.47" r="1.9"/><circle cx="336.31" cy="640.89" r="1.9"/><circle cx="350.47" cy="636.55" r="1.9"/><circle cx="364.62" cy="632.89" r="1.9"/></g>
<path d="M223.08 645.58 L237.23 645.23 L251.39 645.23 L265.54 645.23 L279.70 644.89 L293.85 644.89 L308.00 644.54 L322.16 643.16 L336.31 641.65 L350.47 637.99 L364.62 635.79" stroke="#c9c617" stroke-width="1.5" fill="none" stroke-linejoin="round"/>
<g fill="#c9c617"><circle cx="223.08" cy="645.58" r="1.9"/><circle cx="237.23" cy="645.23" r="1.9"/><circle cx="251.39" cy="645.23" r="1.9"/><circle cx="265.54" cy="645.23" r="1.9"/><circle cx="279.70" cy="644.89" r="1.9"/><circle cx="293.85" cy="644.89" r="1.9"/><circle cx="308.00" cy="644.54" r="1.9"/><circle cx="322.16" cy="643.16" r="1.9"/><circle cx="336.31" cy="641.65" r="1.9"/><circle cx="350.47" cy="637.99" r="1.9"/><circle cx="364.62" cy="635.79" r="1.9"/></g>
<path d="M223.08 646.27 L237.23 645.92 L251.39 645.92 L265.54 645.92 L279.70 645.92 L293.85 645.92 L308.00 645.23 L322.16 644.27 L336.31 644.54 L350.47 641.30 L364.62 637.99" stroke="#19c3d3" stroke-width="1.5" fill="none" stroke-linejoin="round"/>
<g fill="#19c3d3"><circle cx="223.08" cy="646.27" r="1.9"/><circle cx="237.23" cy="645.92" r="1.9"/><circle cx="251.39" cy="645.92" r="1.9"/><circle cx="265.54" cy="645.92" r="1.9"/><circle cx="279.70" cy="645.92" r="1.9"/><circle cx="293.85" cy="645.92" r="1.9"/><circle cx="308.00" cy="645.23" r="1.9"/><circle cx="322.16" cy="644.27" r="1.9"/><circle cx="336.31" cy="644.54" r="1.9"/><circle cx="350.47" cy="641.30" r="1.9"/><circle cx="364.62" cy="637.99" r="1.9"/></g>
<rect x="216.00" y="530.10" width="155.70" height="117.20" fill="none" stroke="#262626" stroke-width="1.3"/>
<path d="M392.98 530.10V647.30M407.13 530.10V647.30M421.29 530.10V647.30M435.44 530.10V647.30M449.60 530.10V647.30M463.75 530.10V647.30M477.90 530.10V647.30M492.06 530.10V647.30M506.21 530.10V647.30M520.37 530.10V647.30M534.52 530.10V647.30M385.90 633.51H541.60M385.90 619.72H541.60M385.90 605.94H541.60M385.90 592.15H541.60M385.90 578.36H541.60M385.90 564.57H541.60M385.90 550.78H541.60M385.90 536.99H541.60" stroke="#bdbdbd" stroke-opacity="1" stroke-width="0.8" stroke-dasharray="2.7 1.0" fill="none"/>
<path d="M392.98 642.75 L407.13 641.30 L421.29 641.30 L435.44 641.99 L449.60 641.30 L463.75 641.30 L477.90 639.51 L492.06 637.65 L506.21 627.44 L520.37 627.44 L534.52 608.07" stroke="#1f77b4" stroke-width="1.5" fill="none" stroke-linejoin="round"/>
<g fill="#1f77b4"><circle cx="392.98" cy="642.75" r="1.9"/><circle cx="407.13" cy="641.30" r="1.9"/><circle cx="421.29" cy="641.30" r="1.9"/><circle cx="435.44" cy="641.99" r="1.9"/><circle cx="449.60" cy="641.30" r="1.9"/><circle cx="463.75" cy="641.30" r="1.9"/><circle cx="477.90" cy="639.51" r="1.9"/><circle cx="492.06" cy="637.65" r="1.9"/><circle cx="506.21" cy="627.44" r="1.9"/><circle cx="520.37" cy="627.44" r="1.9"/><circle cx="534.52" cy="608.07" r="1.9"/></g>
<path d="M392.98 644.20 L407.13 642.75 L421.29 641.58 L435.44 642.75 L449.60 641.78 L463.75 640.96 L477.90 640.96 L492.06 632.20 L506.21 632.82 L520.37 621.58 L534.52 605.18" stroke="#ff7f0e" stroke-width="1.5" fill="none" stroke-linejoin="round"/>
<g fill="#ff7f0e"><circle cx="392.98" cy="644.20" r="1.9"/><circle cx="407.13" cy="642.75" r="1.9"/><circle cx="421.29" cy="641.58" r="1.9"/><circle cx="435.44" cy="642.75" r="1.9"/><circle cx="449.60" cy="641.78" r="1.9"/><circle cx="463.75" cy="640.96" r="1.9"/><circle cx="477.90" cy="640.96" r="1.9"/><circle cx="492.06" cy="632.20" r="1.9"/><circle cx="506.21" cy="632.82" r="1.9"/><circle cx="520.37" cy="621.58" r="1.9"/><circle cx="534.52" cy="605.18" r="1.9"/></g>
<path d="M392.98 643.44 L407.13 643.16 L421.29 641.30 L435.44 643.16 L449.60 640.96 L463.75 641.99 L477.90 641.78 L492.06 641.30 L506.21 636.61 L520.37 628.89 L534.52 623.52" stroke="#1fa637" stroke-width="1.5" fill="none" stroke-linejoin="round"/>
<g fill="#1fa637"><circle cx="392.98" cy="643.44" r="1.9"/><circle cx="407.13" cy="643.16" r="1.9"/><circle cx="421.29" cy="641.30" r="1.9"/><circle cx="435.44" cy="643.16" r="1.9"/><circle cx="449.60" cy="640.96" r="1.9"/><circle cx="463.75" cy="641.99" r="1.9"/><circle cx="477.90" cy="641.78" r="1.9"/><circle cx="492.06" cy="641.30" r="1.9"/><circle cx="506.21" cy="636.61" r="1.9"/><circle cx="520.37" cy="628.89" r="1.9"/><circle cx="534.52" cy="623.52" r="1.9"/></g>
<path d="M392.98 644.54 L407.13 644.20 L421.29 643.51 L435.44 641.58 L449.60 643.16 L463.75 643.16 L477.90 642.75 L492.06 641.99 L506.21 638.34 L520.37 633.99 L534.52 630.34" stroke="#ee2a3a" stroke-width="1.5" fill="none" stroke-linejoin="round"/>
<g fill="#ee2a3a"><circle cx="392.98" cy="644.54" r="1.9"/><circle cx="407.13" cy="644.20" r="1.9"/><circle cx="421.29" cy="643.51" r="1.9"/><circle cx="435.44" cy="641.58" r="1.9"/><circle cx="449.60" cy="643.16" r="1.9"/><circle cx="463.75" cy="643.16" r="1.9"/><circle cx="477.90" cy="642.75" r="1.9"/><circle cx="492.06" cy="641.99" r="1.9"/><circle cx="506.21" cy="638.34" r="1.9"/><circle cx="520.37" cy="633.99" r="1.9"/><circle cx="534.52" cy="630.34" r="1.9"/></g>
<path d="M392.98 644.20 L407.13 643.85 L421.29 643.85 L435.44 643.85 L449.60 643.85 L463.75 643.85 L477.90 643.51 L492.06 643.16 L506.21 640.75 L520.37 636.27 L534.52 631.10" stroke="#9a6ad0" stroke-width="1.5" fill="none" stroke-linejoin="round"/>
<g fill="#9a6ad0"><circle cx="392.98" cy="644.20" r="1.9"/><circle cx="407.13" cy="643.85" r="1.9"/><circle cx="421.29" cy="643.85" r="1.9"/><circle cx="435.44" cy="643.85" r="1.9"/><circle cx="449.60" cy="643.85" r="1.9"/><circle cx="463.75" cy="643.85" r="1.9"/><circle cx="477.90" cy="643.51" r="1.9"/><circle cx="492.06" cy="643.16" r="1.9"/><circle cx="506.21" cy="640.75" r="1.9"/><circle cx="520.37" cy="636.27" r="1.9"/><circle cx="534.52" cy="631.10" r="1.9"/></g>
<path d="M392.98 643.85 L407.13 643.51 L421.29 643.85 L435.44 643.51 L449.60 643.85 L463.75 643.85 L477.90 643.51 L492.06 643.16 L506.21 640.54 L520.37 637.65 L534.52 629.93" stroke="#8c564b" stroke-width="1.5" fill="none" stroke-linejoin="round"/>
<g fill="#8c564b"><circle cx="392.98" cy="643.85" r="1.9"/><circle cx="407.13" cy="643.51" r="1.9"/><circle cx="421.29" cy="643.85" r="1.9"/><circle cx="435.44" cy="643.51" r="1.9"/><circle cx="449.60" cy="643.85" r="1.9"/><circle cx="463.75" cy="643.85" r="1.9"/><circle cx="477.90" cy="643.51" r="1.9"/><circle cx="492.06" cy="643.16" r="1.9"/><circle cx="506.21" cy="640.54" r="1.9"/><circle cx="520.37" cy="637.65" r="1.9"/><circle cx="534.52" cy="629.93" r="1.9"/></g>
<path d="M392.98 645.23 L407.13 644.89 L421.29 644.89 L435.44 644.89 L449.60 644.89 L463.75 644.89 L477.90 644.54 L492.06 644.20 L506.21 642.75 L520.37 640.54 L534.52 635.72" stroke="#f77fcf" stroke-width="1.5" fill="none" stroke-linejoin="round"/>
<g fill="#f77fcf"><circle cx="392.98" cy="645.23" r="1.9"/><circle cx="407.13" cy="644.89" r="1.9"/><circle cx="421.29" cy="644.89" r="1.9"/><circle cx="435.44" cy="644.89" r="1.9"/><circle cx="449.60" cy="644.89" r="1.9"/><circle cx="463.75" cy="644.89" r="1.9"/><circle cx="477.90" cy="644.54" r="1.9"/><circle cx="492.06" cy="644.20" r="1.9"/><circle cx="506.21" cy="642.75" r="1.9"/><circle cx="520.37" cy="640.54" r="1.9"/><circle cx="534.52" cy="635.72" r="1.9"/></g>
<path d="M392.98 644.89 L407.13 644.54 L421.29 644.54 L435.44 644.54 L449.60 644.54 L463.75 644.54 L477.90 644.20 L492.06 643.85 L506.21 641.78 L520.37 638.34 L534.52 632.20" stroke="#7f7f7f" stroke-width="1.5" fill="none" stroke-linejoin="round"/>
<g fill="#7f7f7f"><circle cx="392.98" cy="644.89" r="1.9"/><circle cx="407.13" cy="644.54" r="1.9"/><circle cx="421.29" cy="644.54" r="1.9"/><circle cx="435.44" cy="644.54" r="1.9"/><circle cx="449.60" cy="644.54" r="1.9"/><circle cx="463.75" cy="644.54" r="1.9"/><circle cx="477.90" cy="644.20" r="1.9"/><circle cx="492.06" cy="643.85" r="1.9"/><circle cx="506.21" cy="641.78" r="1.9"/><circle cx="520.37" cy="638.34" r="1.9"/><circle cx="534.52" cy="632.20" r="1.9"/></g>
<path d="M392.98 646.27 L407.13 645.92 L421.29 645.92 L435.44 645.92 L449.60 645.92 L463.75 645.92 L477.90 645.58 L492.06 644.89 L506.21 643.51 L520.37 641.99 L534.52 639.03" stroke="#c9c617" stroke-width="1.5" fill="none" stroke-linejoin="round"/>
<g fill="#c9c617"><circle cx="392.98" cy="646.27" r="1.9"/><circle cx="407.13" cy="645.92" r="1.9"/><circle cx="421.29" cy="645.92" r="1.9"/><circle cx="435.44" cy="645.92" r="1.9"/><circle cx="449.60" cy="645.92" r="1.9"/><circle cx="463.75" cy="645.92" r="1.9"/><circle cx="477.90" cy="645.58" r="1.9"/><circle cx="492.06" cy="644.89" r="1.9"/><circle cx="506.21" cy="643.51" r="1.9"/><circle cx="520.37" cy="641.99" r="1.9"/><circle cx="534.52" cy="639.03" r="1.9"/></g>
<path d="M392.98 645.37 L407.13 645.23 L421.29 644.89 L435.44 645.23 L449.60 645.65 L463.75 645.65 L477.90 644.89 L492.06 645.37 L506.21 644.20 L520.37 641.30 L534.52 638.06" stroke="#19c3d3" stroke-width="1.5" fill="none" stroke-linejoin="round"/>
<g fill="#19c3d3"><circle cx="392.98" cy="645.37" r="1.9"/><circle cx="407.13" cy="645.23" r="1.9"/><circle cx="421.29" cy="644.89" r="1.9"/><circle cx="435.44" cy="645.23" r="1.9"/><circle cx="449.60" cy="645.65" r="1.9"/><circle cx="463.75" cy="645.65" r="1.9"/><circle cx="477.90" cy="644.89" r="1.9"/><circle cx="492.06" cy="645.37" r="1.9"/><circle cx="506.21" cy="644.20" r="1.9"/><circle cx="520.37" cy="641.30" r="1.9"/><circle cx="534.52" cy="638.06" r="1.9"/></g>
<rect x="385.90" y="530.10" width="155.70" height="117.20" fill="none" stroke="#262626" stroke-width="1.3"/>
<path d="M53.48 155.70v4.4M67.63 155.70v2.5M81.79 155.70v4.4M95.94 155.70v2.5M110.10 155.70v4.4M124.25 155.70v2.5M138.40 155.70v4.4M152.56 155.70v2.5M166.71 155.70v4.4M180.87 155.70v2.5M195.02 155.70v4.4M46.40 155.70h-4.4M46.40 138.99h-2.5M46.40 122.27h-4.4M46.40 105.56h-2.5M46.40 88.85h-4.4M46.40 72.14h-2.5M46.40 55.42h-4.4M46.40 38.71h-2.5M46.40 22.00h-4.4M223.08 155.70v4.4M237.23 155.70v2.5M251.39 155.70v4.4M265.54 155.70v2.5M279.70 155.70v4.4M293.85 155.70v2.5M308.00 155.70v4.4M322.16 155.70v2.5M336.31 155.70v4.4M350.47 155.70v2.5M364.62 155.70v4.4M216.00 155.70h-4.4M216.00 138.99h-2.5M216.00 122.27h-4.4M216.00 105.56h-2.5M216.00 88.85h-4.4M216.00 72.14h-2.5M216.00 55.42h-4.4M216.00 38.71h-2.5M216.00 22.00h-4.4M392.98 155.70v4.4M407.13 155.70v2.5M421.29 155.70v4.4M435.44 155.70v2.5M449.60 155.70v4.4M463.75 155.70v2.5M477.90 155.70v4.4M492.06 155.70v2.5M506.21 155.70v4.4M520.37 155.70v2.5M534.52 155.70v4.4M385.90 155.70h-4.4M385.90 138.99h-2.5M385.90 122.27h-4.4M385.90 105.56h-2.5M385.90 88.85h-4.4M385.90 72.14h-2.5M385.90 55.42h-4.4M385.90 38.71h-2.5M385.90 22.00h-4.4M53.48 316.60v4.4M67.63 316.60v2.5M81.79 316.60v4.4M95.94 316.60v2.5M110.10 316.60v4.4M124.25 316.60v2.5M138.40 316.60v4.4M152.56 316.60v2.5M166.71 316.60v4.4M180.87 316.60v2.5M195.02 316.60v4.4M46.40 316.60h-4.4M46.40 299.84h-2.5M46.40 283.08h-4.4M46.40 266.31h-2.5M46.40 249.55h-4.4M46.40 232.79h-2.5M46.40 216.03h-4.4M46.40 199.26h-2.5M46.40 182.50h-4.4M223.08 316.60v4.4M237.23 316.60v2.5M251.39 316.60v4.4M265.54 316.60v2.5M279.70 316.60v4.4M293.85 316.60v2.5M308.00 316.60v4.4M322.16 316.60v2.5M336.31 316.60v4.4M350.47 316.60v2.5M364.62 316.60v4.4M216.00 316.60h-4.4M216.00 299.84h-2.5M216.00 283.08h-4.4M216.00 266.31h-2.5M216.00 249.55h-4.4M216.00 232.79h-2.5M216.00 216.03h-4.4M216.00 199.26h-2.5M216.00 182.50h-4.4M392.98 316.60v4.4M407.13 316.60v2.5M421.29 316.60v4.4M435.44 316.60v2.5M449.60 316.60v4.4M463.75 316.60v2.5M477.90 316.60v4.4M492.06 316.60v2.5M506.21 316.60v4.4M520.37 316.60v2.5M534.52 316.60v4.4M385.90 316.60h-4.4M385.90 299.84h-2.5M385.90 283.08h-4.4M385.90 266.31h-2.5M385.90 249.55h-4.4M385.90 232.79h-2.5M385.90 216.03h-4.4M385.90 199.26h-2.5M385.90 182.50h-4.4M53.48 502.90v4.4M67.63 502.90v2.5M81.79 502.90v4.4M95.94 502.90v2.5M110.10 502.90v4.4M124.25 502.90v2.5M138.40 502.90v4.4M152.56 502.90v2.5M166.71 502.90v4.4M180.87 502.90v2.5M195.02 502.90v4.4M46.40 502.90h-4.4M46.40 489.14h-2.5M46.40 475.37h-4.4M46.40 461.61h-2.5M46.40 447.84h-4.4M46.40 434.08h-2.5M46.40 420.31h-4.4M46.40 406.55h-2.5M46.40 392.78h-4.4M223.08 502.90v4.4M237.23 502.90v2.5M251.39 502.90v4.4M265.54 502.90v2.5M279.70 502.90v4.4M293.85 502.90v2.5M308.00 502.90v4.4M322.16 502.90v2.5M336.31 502.90v4.4M350.47 502.90v2.5M364.62 502.90v4.4M216.00 502.90h-4.4M216.00 489.14h-2.5M216.00 475.37h-4.4M216.00 461.61h-2.5M216.00 447.84h-4.4M216.00 434.08h-2.5M216.00 420.31h-4.4M216.00 406.55h-2.5M216.00 392.78h-4.4M392.98 502.90v4.4M407.13 502.90v2.5M421.29 502.90v4.4M435.44 502.90v2.5M449.60 502.90v4.4M463.75 502.90v2.5M477.90 502.90v4.4M492.06 502.90v2.5M506.21 502.90v4.4M520.37 502.90v2.5M534.52 502.90v4.4M385.90 502.90h-4.4M385.90 489.14h-2.5M385.90 475.37h-4.4M385.90 461.61h-2.5M385.90 447.84h-4.4M385.90 434.08h-2.5M385.90 420.31h-4.4M385.90 406.55h-2.5M385.90 392.78h-4.4M53.48 647.30v4.4M67.63 647.30v2.5M81.79 647.30v4.4M95.94 647.30v2.5M110.10 647.30v4.4M124.25 647.30v2.5M138.40 647.30v4.4M152.56 647.30v2.5M166.71 647.30v4.4M180.87 647.30v2.5M195.02 647.30v4.4M46.40 647.30h-4.4M46.40 633.51h-2.5M46.40 619.72h-4.4M46.40 605.94h-2.5M46.40 592.15h-4.4M46.40 578.36h-2.5M46.40 564.57h-4.4M46.40 550.78h-2.5M46.40 536.99h-4.4M223.08 647.30v4.4M237.23 647.30v2.5M251.39 647.30v4.4M265.54 647.30v2.5M279.70 647.30v4.4M293.85 647.30v2.5M308.00 647.30v4.4M322.16 647.30v2.5M336.31 647.30v4.4M350.47 647.30v2.5M364.62 647.30v4.4M216.00 647.30h-4.4M216.00 633.51h-2.5M216.00 619.72h-4.4M216.00 605.94h-2.5M216.00 592.15h-4.4M216.00 578.36h-2.5M216.00 564.57h-4.4M216.00 550.78h-2.5M216.00 536.99h-4.4M392.98 647.30v4.4M407.13 647.30v2.5M421.29 647.30v4.4M435.44 647.30v2.5M449.60 647.30v4.4M463.75 647.30v2.5M477.90 647.30v4.4M492.06 647.30v2.5M506.21 647.30v4.4M520.37 647.30v2.5M534.52 647.30v4.4M385.90 647.30h-4.4M385.90 633.51h-2.5M385.90 619.72h-4.4M385.90 605.94h-2.5M385.90 592.15h-4.4M385.90 578.36h-2.5M385.90 564.57h-4.4M385.90 550.78h-2.5M385.90 536.99h-4.4" stroke="#262626" stroke-width="1.2" fill="none"/>
<text x="37.6" y="159.60" font-size="10.2" fill="#000" text-anchor="end" textLength="12.28" lengthAdjust="spacingAndGlyphs">50</text>
<text x="37.6" y="126.17" font-size="10.2" fill="#000" text-anchor="end" textLength="12.28" lengthAdjust="spacingAndGlyphs">60</text>
<text x="37.6" y="92.75" font-size="10.2" fill="#000" text-anchor="end" textLength="12.28" lengthAdjust="spacingAndGlyphs">70</text>
<text x="37.6" y="59.32" font-size="10.2" fill="#000" text-anchor="end" textLength="12.28" lengthAdjust="spacingAndGlyphs">80</text>
<text x="37.6" y="25.90" font-size="10.2" fill="#000" text-anchor="end" textLength="12.28" lengthAdjust="spacingAndGlyphs">90</text>
<text x="37.6" y="320.50" font-size="10.2" fill="#000" text-anchor="end" textLength="12.28" lengthAdjust="spacingAndGlyphs">50</text>
<text x="37.6" y="286.98" font-size="10.2" fill="#000" text-anchor="end" textLength="12.28" lengthAdjust="spacingAndGlyphs">60</text>
<text x="37.6" y="253.45" font-size="10.2" fill="#000" text-anchor="end" textLength="12.28" lengthAdjust="spacingAndGlyphs">70</text>
<text x="37.6" y="219.93" font-size="10.2" fill="#000" text-anchor="end" textLength="12.28" lengthAdjust="spacingAndGlyphs">80</text>
<text x="37.6" y="186.40" font-size="10.2" fill="#000" text-anchor="end" textLength="12.28" lengthAdjust="spacingAndGlyphs">90</text>
<text x="53.48" y="332.90" font-size="10.2" fill="#000" text-anchor="middle" textLength="6.1" lengthAdjust="spacingAndGlyphs">0</text>
<text x="81.79" y="332.90" font-size="10.2" fill="#000" text-anchor="middle" textLength="12.3" lengthAdjust="spacingAndGlyphs">20</text>
<text x="110.10" y="332.90" font-size="10.2" fill="#000" text-anchor="middle" textLength="12.3" lengthAdjust="spacingAndGlyphs">40</text>
<text x="138.40" y="332.90" font-size="10.2" fill="#000" text-anchor="middle" textLength="12.3" lengthAdjust="spacingAndGlyphs">60</text>
<text x="166.71" y="332.90" font-size="10.2" fill="#000" text-anchor="middle" textLength="12.3" lengthAdjust="spacingAndGlyphs">80</text>
<text x="195.02" y="332.90" font-size="10.2" fill="#000" text-anchor="middle" textLength="18.4" lengthAdjust="spacingAndGlyphs">100</text>
<text x="223.08" y="332.90" font-size="10.2" fill="#000" text-anchor="middle" textLength="6.1" lengthAdjust="spacingAndGlyphs">0</text>
<text x="251.39" y="332.90" font-size="10.2" fill="#000" text-anchor="middle" textLength="12.3" lengthAdjust="spacingAndGlyphs">20</text>
<text x="279.70" y="332.90" font-size="10.2" fill="#000" text-anchor="middle" textLength="12.3" lengthAdjust="spacingAndGlyphs">40</text>
<text x="308.00" y="332.90" font-size="10.2" fill="#000" text-anchor="middle" textLength="12.3" lengthAdjust="spacingAndGlyphs">60</text>
<text x="336.31" y="332.90" font-size="10.2" fill="#000" text-anchor="middle" textLength="12.3" lengthAdjust="spacingAndGlyphs">80</text>
<text x="364.62" y="332.90" font-size="10.2" fill="#000" text-anchor="middle" textLength="18.4" lengthAdjust="spacingAndGlyphs">100</text>
<text x="392.98" y="332.90" font-size="10.2" fill="#000" text-anchor="middle" textLength="6.1" lengthAdjust="spacingAndGlyphs">0</text>
<text x="421.29" y="332.90" font-size="10.2" fill="#000" text-anchor="middle" textLength="12.3" lengthAdjust="spacingAndGlyphs">20</text>
<text x="449.60" y="332.90" font-size="10.2" fill="#000" text-anchor="middle" textLength="12.3" lengthAdjust="spacingAndGlyphs">40</text>
<text x="477.90" y="332.90" font-size="10.2" fill="#000" text-anchor="middle" textLength="12.3" lengthAdjust="spacingAndGlyphs">60</text>
<text x="506.21" y="332.90" font-size="10.2" fill="#000" text-anchor="middle" textLength="12.3" lengthAdjust="spacingAndGlyphs">80</text>
<text x="534.52" y="332.90" font-size="10.2" fill="#000" text-anchor="middle" textLength="18.4" lengthAdjust="spacingAndGlyphs">100</text>
<text x="37.6" y="506.80" font-size="10.2" fill="#000" text-anchor="end" textLength="6.14" lengthAdjust="spacingAndGlyphs">0</text>
<text x="37.6" y="479.27" font-size="10.2" fill="#000" text-anchor="end" textLength="6.14" lengthAdjust="spacingAndGlyphs">4</text>
<text x="37.6" y="451.74" font-size="10.2" fill="#000" text-anchor="end" textLength="6.14" lengthAdjust="spacingAndGlyphs">8</text>
<text x="37.6" y="424.21" font-size="10.2" fill="#000" text-anchor="end" textLength="12.28" lengthAdjust="spacingAndGlyphs">12</text>
<text x="37.6" y="396.68" font-size="10.2" fill="#000" text-anchor="end" textLength="12.28" lengthAdjust="spacingAndGlyphs">16</text>
<text x="37.6" y="651.20" font-size="10.2" fill="#000" text-anchor="end" textLength="6.14" lengthAdjust="spacingAndGlyphs">0</text>
<text x="37.6" y="623.62" font-size="10.2" fill="#000" text-anchor="end" textLength="6.14" lengthAdjust="spacingAndGlyphs">4</text>
<text x="37.6" y="596.05" font-size="10.2" fill="#000" text-anchor="end" textLength="6.14" lengthAdjust="spacingAndGlyphs">8</text>
<text x="37.6" y="568.47" font-size="10.2" fill="#000" text-anchor="end" textLength="12.28" lengthAdjust="spacingAndGlyphs">12</text>
<text x="37.6" y="540.89" font-size="10.2" fill="#000" text-anchor="end" textLength="12.28" lengthAdjust="spacingAndGlyphs">16</text>
<text x="53.48" y="663.60" font-size="10.2" fill="#000" text-anchor="middle" textLength="6.1" lengthAdjust="spacingAndGlyphs">0</text>
<text x="81.79" y="663.60" font-size="10.2" fill="#000" text-anchor="middle" textLength="12.3" lengthAdjust="spacingAndGlyphs">20</text>
<text x="110.10" y="663.60" font-size="10.2" fill="#000" text-anchor="middle" textLength="12.3" lengthAdjust="spacingAndGlyphs">40</text>
<text x="138.40" y="663.60" font-size="10.2" fill="#000" text-anchor="middle" textLength="12.3" lengthAdjust="spacingAndGlyphs">60</text>
<text x="166.71" y="663.60" font-size="10.2" fill="#000" text-anchor="middle" textLength="12.3" lengthAdjust="spacingAndGlyphs">80</text>
<text x="195.02" y="663.60" font-size="10.2" fill="#000" text-anchor="middle" textLength="18.4" lengthAdjust="spacingAndGlyphs">100</text>
<text x="223.08" y="663.60" font-size="10.2" fill="#000" text-anchor="middle" textLength="6.1" lengthAdjust="spacingAndGlyphs">0</text>
<text x="251.39" y="663.60" font-size="10.2" fill="#000" text-anchor="middle" textLength="12.3" lengthAdjust="spacingAndGlyphs">20</text>
<text x="279.70" y="663.60" font-size="10.2" fill="#000" text-anchor="middle" textLength="12.3" lengthAdjust="spacingAndGlyphs">40</text>
<text x="308.00" y="663.60" font-size="10.2" fill="#000" text-anchor="middle" textLength="12.3" lengthAdjust="spacingAndGlyphs">60</text>
<text x="336.31" y="663.60" font-size="10.2" fill="#000" text-anchor="middle" textLength="12.3" lengthAdjust="spacingAndGlyphs">80</text>
<text x="364.62" y="663.60" font-size="10.2" fill="#000" text-anchor="middle" textLength="18.4" lengthAdjust="spacingAndGlyphs">100</text>
<text x="392.98" y="663.60" font-size="10.2" fill="#000" text-anchor="middle" textLength="6.1" lengthAdjust="spacingAndGlyphs">0</text>
<text x="421.29" y="663.60" font-size="10.2" fill="#000" text-anchor="middle" textLength="12.3" lengthAdjust="spacingAndGlyphs">20</text>
<text x="449.60" y="663.60" font-size="10.2" fill="#000" text-anchor="middle" textLength="12.3" lengthAdjust="spacingAndGlyphs">40</text>
<text x="477.90" y="663.60" font-size="10.2" fill="#000" text-anchor="middle" textLength="12.3" lengthAdjust="spacingAndGlyphs">60</text>
<text x="506.21" y="663.60" font-size="10.2" fill="#000" text-anchor="middle" textLength="12.3" lengthAdjust="spacingAndGlyphs">80</text>
<text x="534.52" y="663.60" font-size="10.2" fill="#000" text-anchor="middle" textLength="18.4" lengthAdjust="spacingAndGlyphs">100</text>
<text x="69.85" y="16.40" font-size="10.6" font-weight="bold" fill="#000" textLength="16.44" lengthAdjust="spacingAndGlyphs">(a)</text>
<text x="89.59" y="16.40" font-size="10.6" fill="#000" textLength="89.06" lengthAdjust="spacingAndGlyphs">Linear (C=0.001)</text>
<text x="242.53" y="16.40" font-size="10.6" font-weight="bold" fill="#000" textLength="16.87" lengthAdjust="spacingAndGlyphs">(b)</text>
<text x="262.69" y="16.40" font-size="10.6" fill="#000" textLength="82.48" lengthAdjust="spacingAndGlyphs">Linear (C=0.01)</text>
<text x="416.36" y="16.40" font-size="10.6" font-weight="bold" fill="#000" textLength="15.60" lengthAdjust="spacingAndGlyphs">(c)</text>
<text x="435.25" y="16.40" font-size="10.6" fill="#000" textLength="75.89" lengthAdjust="spacingAndGlyphs">Linear (C=0.1)</text>
<text x="81.16" y="176.90" font-size="10.6" font-weight="bold" fill="#000" textLength="16.87" lengthAdjust="spacingAndGlyphs">(d)</text>
<text x="101.32" y="176.90" font-size="10.6" fill="#000" textLength="66.02" lengthAdjust="spacingAndGlyphs">Linear (C=1)</text>
<text x="247.66" y="176.90" font-size="10.6" font-weight="bold" fill="#000" textLength="16.48" lengthAdjust="spacingAndGlyphs">(e)</text>
<text x="267.43" y="176.90" font-size="10.6" fill="#000" textLength="72.60" lengthAdjust="spacingAndGlyphs">Linear (C=10)</text>
<text x="415.53" y="176.90" font-size="10.6" font-weight="bold" fill="#000" textLength="13.96" lengthAdjust="spacingAndGlyphs">(f)</text>
<text x="432.78" y="176.90" font-size="10.6" fill="#000" textLength="79.19" lengthAdjust="spacingAndGlyphs">Linear (C=100)</text>
<text x="69.64" y="380.30" font-size="10.6" font-weight="bold" fill="#000" textLength="16.87" lengthAdjust="spacingAndGlyphs">(g)</text>
<text x="89.80" y="380.30" font-size="10.6" fill="#000" textLength="89.06" lengthAdjust="spacingAndGlyphs">Linear (C=0.001)</text>
<text x="242.55" y="380.30" font-size="10.6" font-weight="bold" fill="#000" textLength="16.83" lengthAdjust="spacingAndGlyphs">(h)</text>
<text x="262.67" y="380.30" font-size="10.6" fill="#000" textLength="82.48" lengthAdjust="spacingAndGlyphs">Linear (C=0.01)</text>
<text x="417.66" y="380.30" font-size="10.6" font-weight="bold" fill="#000" textLength="13.01" lengthAdjust="spacingAndGlyphs">(i)</text>
<text x="433.95" y="380.30" font-size="10.6" fill="#000" textLength="75.89" lengthAdjust="spacingAndGlyphs">Linear (C=0.1)</text>
<text x="83.09" y="524.50" font-size="10.6" font-weight="bold" fill="#000" textLength="13.01" lengthAdjust="spacingAndGlyphs">(j)</text>
<text x="99.39" y="524.50" font-size="10.6" fill="#000" textLength="66.02" lengthAdjust="spacingAndGlyphs">Linear (C=1)</text>
<text x="247.73" y="524.50" font-size="10.6" font-weight="bold" fill="#000" textLength="16.34" lengthAdjust="spacingAndGlyphs">(k)</text>
<text x="267.37" y="524.50" font-size="10.6" fill="#000" textLength="72.60" lengthAdjust="spacingAndGlyphs">Linear (C=10)</text>
<text x="416.01" y="524.50" font-size="10.6" font-weight="bold" fill="#000" textLength="13.01" lengthAdjust="spacingAndGlyphs">(l)</text>
<text x="432.31" y="524.50" font-size="10.6" fill="#000" textLength="79.19" lengthAdjust="spacingAndGlyphs">Linear (C=100)</text>
<text x="275.9" y="350.2" font-size="10.6" fill="#000" text-anchor="middle" textLength="236.2" lengthAdjust="spacingAndGlyphs">Mixed percentage (MP %) in training samples</text>
<text x="275.9" y="681.0" font-size="10.6" fill="#000" text-anchor="middle" textLength="236.2" lengthAdjust="spacingAndGlyphs">Mixed percentage (MP %) in training samples</text>
<text transform="translate(15.6 179.8) rotate(-90)" font-size="10.6" fill="#000" text-anchor="middle" textLength="156" lengthAdjust="spacingAndGlyphs">Mean Overall Accuracy (MOA)</text>
<text transform="translate(15.6 527.0) rotate(-90)" font-size="10.6" fill="#000" text-anchor="middle" textLength="248.5" lengthAdjust="spacingAndGlyphs">Standard Deviation of Overall Accuracy (SDOA)</text>
<path d="M17 362.3H541.8" stroke="#262626" stroke-width="1.3" stroke-dasharray="6.75 4.6" stroke-dashoffset="2.4"/>
<rect x="300.7" y="23.7" width="239.90" height="24.30" rx="1.5" fill="#fff" fill-opacity="0.8" stroke="#d0d0d0" stroke-width="0.9"/>
<path d="M304.00 30.80h19.5" stroke="#1f77b4" stroke-width="1.3"/><circle cx="313.75" cy="30.80" r="1.9" fill="#1f77b4"/>
<text x="330.70" y="34.20" font-size="9.6" fill="#000" textLength="11.32" lengthAdjust="spacingAndGlyphs">80</text>
<path d="M304.00 39.60h19.5" stroke="#ff7f0e" stroke-width="1.3"/><circle cx="313.75" cy="39.60" r="1.9" fill="#ff7f0e"/>
<text x="330.70" y="43.00" font-size="9.6" fill="#000" textLength="16.99" lengthAdjust="spacingAndGlyphs">100</text>
<path d="M350.30 30.80h19.5" stroke="#1fa637" stroke-width="1.3"/><circle cx="360.05" cy="30.80" r="1.9" fill="#1fa637"/>
<text x="377.00" y="34.20" font-size="9.6" fill="#000" textLength="16.99" lengthAdjust="spacingAndGlyphs">200</text>
<path d="M350.30 39.60h19.5" stroke="#ee2a3a" stroke-width="1.3"/><circle cx="360.05" cy="39.60" r="1.9" fill="#ee2a3a"/>
<text x="377.00" y="43.00" font-size="9.6" fill="#000" textLength="16.99" lengthAdjust="spacingAndGlyphs">300</text>
<path d="M396.40 30.80h19.5" stroke="#9a6ad0" stroke-width="1.3"/><circle cx="406.15" cy="30.80" r="1.9" fill="#9a6ad0"/>
<text x="423.10" y="34.20" font-size="9.6" fill="#000" textLength="16.99" lengthAdjust="spacingAndGlyphs">400</text>
<path d="M396.40 39.60h19.5" stroke="#8c564b" stroke-width="1.3"/><circle cx="406.15" cy="39.60" r="1.9" fill="#8c564b"/>
<text x="423.10" y="43.00" font-size="9.6" fill="#000" textLength="16.99" lengthAdjust="spacingAndGlyphs">500</text>
<path d="M442.20 30.80h19.5" stroke="#f77fcf" stroke-width="1.3"/><circle cx="451.95" cy="30.80" r="1.9" fill="#f77fcf"/>
<text x="468.90" y="34.20" font-size="9.6" fill="#000" textLength="16.99" lengthAdjust="spacingAndGlyphs">600</text>
<path d="M442.20 39.60h19.5" stroke="#7f7f7f" stroke-width="1.3"/><circle cx="451.95" cy="39.60" r="1.9" fill="#7f7f7f"/>
<text x="468.90" y="43.00" font-size="9.6" fill="#000" textLength="16.99" lengthAdjust="spacingAndGlyphs">800</text>
<path d="M488.20 30.80h19.5" stroke="#c9c617" stroke-width="1.3"/><circle cx="497.95" cy="30.80" r="1.9" fill="#c9c617"/>
<text x="514.90" y="34.20" font-size="9.6" fill="#000" textLength="22.65" lengthAdjust="spacingAndGlyphs">1000</text>
<path d="M488.20 39.60h19.5" stroke="#19c3d3" stroke-width="1.3"/><circle cx="497.95" cy="39.60" r="1.9" fill="#19c3d3"/>
<text x="514.90" y="43.00" font-size="9.6" fill="#000" textLength="22.65" lengthAdjust="spacingAndGlyphs">1200</text>
</svg></body></html>
